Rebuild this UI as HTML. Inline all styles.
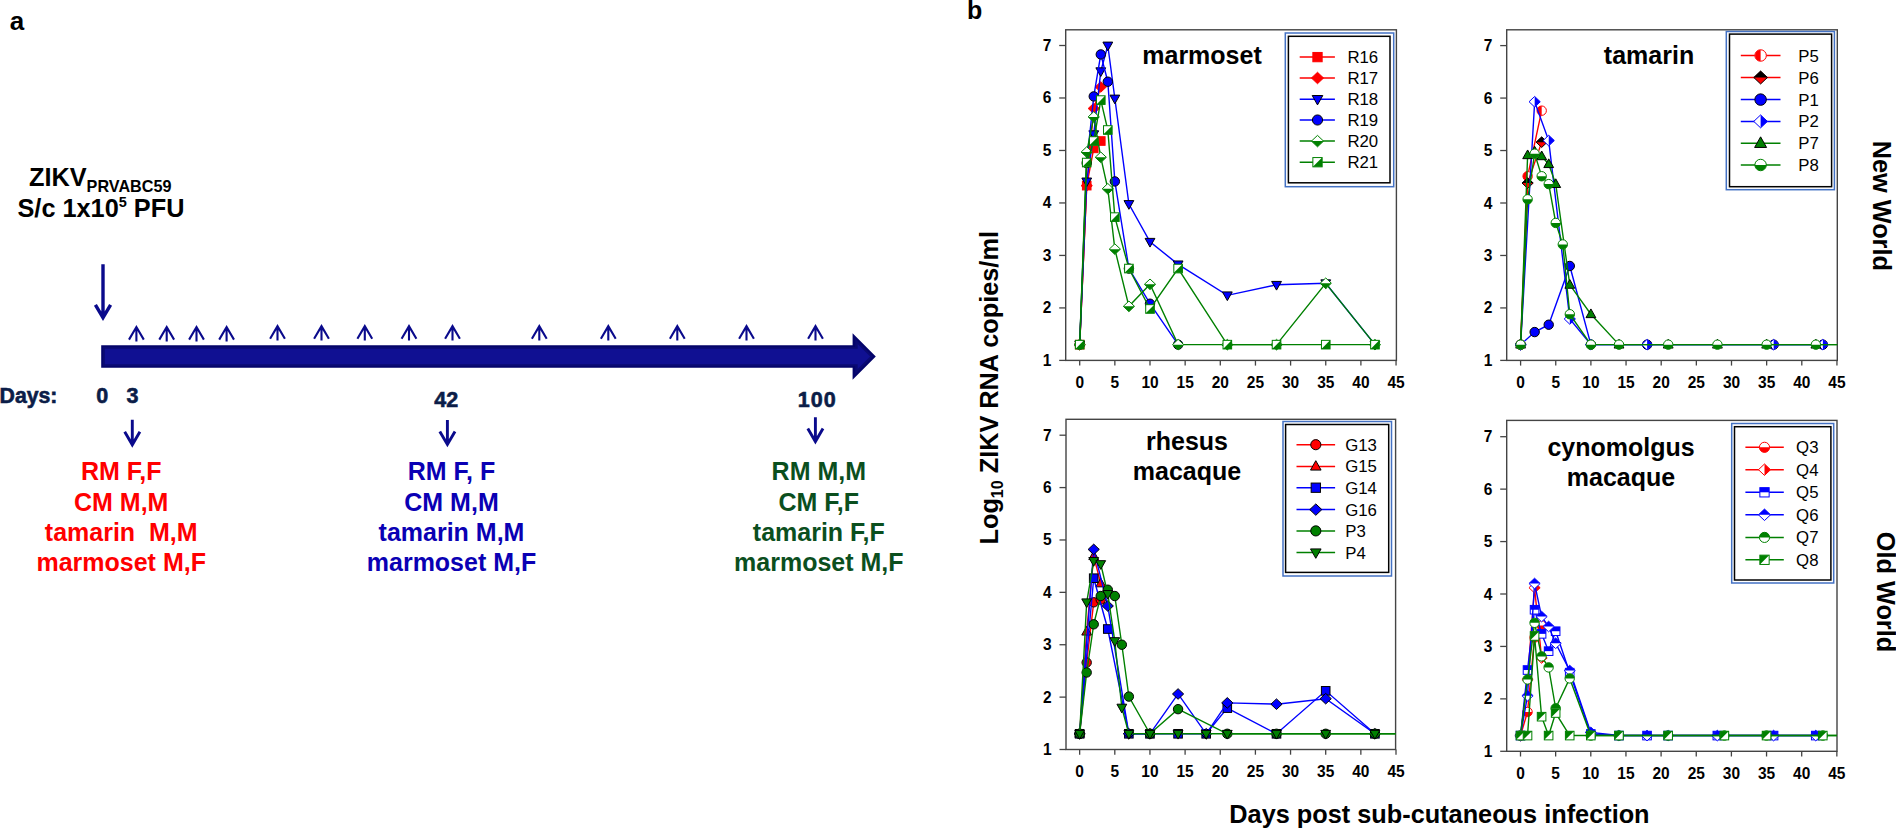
<!DOCTYPE html>
<html lang="en"><head><meta charset="utf-8"><title>ZIKV infection of New World and Old World primates</title>
<style>
html,body{margin:0;padding:0;background:#ffffff;}
body{width:1896px;height:829px;overflow:hidden;}
svg{display:block;}
text{font-family:"Liberation Sans",Arial,Helvetica,sans-serif;}
.tk{font-size:15.5px;font-weight:bold;fill:#000;}
.lg{font-size:16.8px;fill:#000;}
.ttl{font-size:25px;font-weight:bold;fill:#000;}
.big{font-size:25.3px;font-weight:bold;fill:#000;}
.grp{font-size:25px;font-weight:bold;stroke-width:0;}
.bk{font-weight:bold;fill:#000;}
.day{font-size:21.5px;font-weight:bold;fill:#0b1d48;stroke:#0b1d48;stroke-width:0.6px;}
</style></head><body>
<svg width="1896" height="829" viewBox="0 0 1896 829">
<rect x="0" y="0" width="1896" height="829" fill="#ffffff"/>
<text transform="translate(9.7 30) scale(1 1)" class="bk" style="font-size:26px">a</text>
<text transform="translate(967 19) scale(1 1)" class="bk" style="font-size:25px">b</text>
<text transform="translate(29 186.2) scale(1 1.04)" class="bk caps" style="font-size:25.3px">ZIKV<tspan dy="5.6" style="font-size:16.2px">PRVABC59</tspan></text>
<text transform="translate(17.5 216.5) scale(1 1.04)" class="bk caps" style="font-size:25.3px">S/c 1x10<tspan dy="-9.5" style="font-size:14.5px">5</tspan><tspan dy="9.5"> PFU</tspan></text>
<path d="M103 264.2 V317 M95.4 304.8 L103 317.7 L110.6 304.8" fill="none" stroke="#0a0a8c" stroke-width="3.4" stroke-linejoin="miter"/>
<polygon points="101.2,345.2 852.6,345.2 852.6,333.3 875.8,356.5 852.6,379.7 852.6,367.8 101.2,367.8" fill="#04046a"/>
<polygon points="103,347 855.12,347 855.12,338.61 873.01,356.5 855.12,374.39 855.12,366 103,366" fill="#0a0a72"/>
<polygon points="104.8,348.8 857.64,348.8 857.64,343.92 870.22,356.5 857.64,369.08 857.64,364.2 104.8,364.2" fill="#101092"/>
<path d="M136.4 327.3 V341.4 M129 339.6 L136.4 327 L143.8 339.6" fill="none" stroke="#0a0a8c" stroke-width="2.1"/>
<path d="M166.7 327.3 V341.4 M159.3 339.6 L166.7 327 L174.1 339.6" fill="none" stroke="#0a0a8c" stroke-width="2.1"/>
<path d="M196.5 327.3 V341.4 M189.1 339.6 L196.5 327 L203.9 339.6" fill="none" stroke="#0a0a8c" stroke-width="2.1"/>
<path d="M226.6 327.3 V341.4 M219.2 339.6 L226.6 327 L234 339.6" fill="none" stroke="#0a0a8c" stroke-width="2.1"/>
<path d="M277.5 326.4 V340.5 M270.1 338.7 L277.5 326.1 L284.9 338.7" fill="none" stroke="#0a0a8c" stroke-width="2.1"/>
<path d="M321.5 326.4 V340.5 M314.1 338.7 L321.5 326.1 L328.9 338.7" fill="none" stroke="#0a0a8c" stroke-width="2.1"/>
<path d="M364.8 326.4 V340.5 M357.4 338.7 L364.8 326.1 L372.2 338.7" fill="none" stroke="#0a0a8c" stroke-width="2.1"/>
<path d="M409 326.4 V340.5 M401.6 338.7 L409 326.1 L416.4 338.7" fill="none" stroke="#0a0a8c" stroke-width="2.1"/>
<path d="M452.5 326.4 V340.5 M445.1 338.7 L452.5 326.1 L459.9 338.7" fill="none" stroke="#0a0a8c" stroke-width="2.1"/>
<path d="M539.3 326.4 V340.5 M531.9 338.7 L539.3 326.1 L546.7 338.7" fill="none" stroke="#0a0a8c" stroke-width="2.1"/>
<path d="M608.3 326.4 V340.5 M600.9 338.7 L608.3 326.1 L615.7 338.7" fill="none" stroke="#0a0a8c" stroke-width="2.1"/>
<path d="M677.3 326.4 V340.5 M669.9 338.7 L677.3 326.1 L684.7 338.7" fill="none" stroke="#0a0a8c" stroke-width="2.1"/>
<path d="M746.5 326.4 V340.5 M739.1 338.7 L746.5 326.1 L753.9 338.7" fill="none" stroke="#0a0a8c" stroke-width="2.1"/>
<path d="M815.5 326.4 V340.5 M808.1 338.7 L815.5 326.1 L822.9 338.7" fill="none" stroke="#0a0a8c" stroke-width="2.1"/>
<text x="-0.4" y="402.6" class="day" textLength="57.8" lengthAdjust="spacingAndGlyphs">Days:</text>
<text x="102.2" y="402.6" class="day" text-anchor="middle">0</text>
<text x="132.4" y="402.6" class="day" text-anchor="middle">3</text>
<text x="446.3" y="406.8" class="day" text-anchor="middle">42</text>
<text x="817.3" y="406.8" class="day" text-anchor="middle" style="letter-spacing:1px">100</text>
<path d="M132.3 419.7 V444.4 M124.7 431.8 L132.3 444.8 L139.9 431.8" fill="none" stroke="#0a0a8c" stroke-width="2.9"/>
<path d="M447.4 420 V444 M439.8 431.4 L447.4 444.4 L455 431.4" fill="none" stroke="#0a0a8c" stroke-width="2.9"/>
<path d="M815.4 417.2 V441.2 M807.8 428.6 L815.4 441.6 L823 428.6" fill="none" stroke="#0a0a8c" stroke-width="2.9"/>
<text transform="translate(121.2 480.4) scale(1 1.04)" text-anchor="middle" class="grp" fill="#ff0000" stroke="#ff0000" xml:space="preserve">RM F,F</text>
<text transform="translate(121.2 510.65) scale(1 1.04)" text-anchor="middle" class="grp" fill="#ff0000" stroke="#ff0000" xml:space="preserve">CM M,M</text>
<text transform="translate(121.2 540.9) scale(1 1.04)" text-anchor="middle" class="grp" fill="#ff0000" stroke="#ff0000" xml:space="preserve">tamarin  M,M</text>
<text transform="translate(121.2 571.15) scale(1 1.04)" text-anchor="middle" class="grp" fill="#ff0000" stroke="#ff0000" xml:space="preserve">marmoset M,F</text>
<text transform="translate(451.5 480.4) scale(1 1.04)" text-anchor="middle" class="grp" fill="#0a00b4" stroke="#0a00b4" xml:space="preserve">RM F, F</text>
<text transform="translate(451.5 510.65) scale(1 1.04)" text-anchor="middle" class="grp" fill="#0a00b4" stroke="#0a00b4" xml:space="preserve">CM M,M</text>
<text transform="translate(451.5 540.9) scale(1 1.04)" text-anchor="middle" class="grp" fill="#0a00b4" stroke="#0a00b4" xml:space="preserve">tamarin M,M</text>
<text transform="translate(451.5 571.15) scale(1 1.04)" text-anchor="middle" class="grp" fill="#0a00b4" stroke="#0a00b4" xml:space="preserve">marmoset M,F</text>
<text transform="translate(818.8 480.4) scale(1 1.04)" text-anchor="middle" class="grp" fill="#0b4f1e" stroke="#0b4f1e" xml:space="preserve">RM M,M</text>
<text transform="translate(818.8 510.65) scale(1 1.04)" text-anchor="middle" class="grp" fill="#0b4f1e" stroke="#0b4f1e" xml:space="preserve">CM F,F</text>
<text transform="translate(818.8 540.9) scale(1 1.04)" text-anchor="middle" class="grp" fill="#0b4f1e" stroke="#0b4f1e" xml:space="preserve">tamarin F,F</text>
<text transform="translate(818.8 571.15) scale(1 1.04)" text-anchor="middle" class="grp" fill="#0b4f1e" stroke="#0b4f1e" xml:space="preserve">marmoset M,F</text>
<rect x="1065.7" y="29.8" width="330.7" height="330.6" fill="none" stroke="#444444" stroke-width="1.4"/>
<line x1="1059.2" y1="360.4" x2="1065.7" y2="360.4" stroke="#444444" stroke-width="1.3"/>
<text transform="translate(1051.4 365.9) scale(1 1.04)" text-anchor="end" class="tk">1</text>
<line x1="1059.2" y1="307.92" x2="1065.7" y2="307.92" stroke="#444444" stroke-width="1.3"/>
<text transform="translate(1051.4 313.42) scale(1 1.04)" text-anchor="end" class="tk">2</text>
<line x1="1059.2" y1="255.43" x2="1065.7" y2="255.43" stroke="#444444" stroke-width="1.3"/>
<text transform="translate(1051.4 260.93) scale(1 1.04)" text-anchor="end" class="tk">3</text>
<line x1="1059.2" y1="202.95" x2="1065.7" y2="202.95" stroke="#444444" stroke-width="1.3"/>
<text transform="translate(1051.4 208.45) scale(1 1.04)" text-anchor="end" class="tk">4</text>
<line x1="1059.2" y1="150.47" x2="1065.7" y2="150.47" stroke="#444444" stroke-width="1.3"/>
<text transform="translate(1051.4 155.97) scale(1 1.04)" text-anchor="end" class="tk">5</text>
<line x1="1059.2" y1="97.98" x2="1065.7" y2="97.98" stroke="#444444" stroke-width="1.3"/>
<text transform="translate(1051.4 103.48) scale(1 1.04)" text-anchor="end" class="tk">6</text>
<line x1="1059.2" y1="45.5" x2="1065.7" y2="45.5" stroke="#444444" stroke-width="1.3"/>
<text transform="translate(1051.4 51) scale(1 1.04)" text-anchor="end" class="tk">7</text>
<line x1="1079.7" y1="360.4" x2="1079.7" y2="365.6" stroke="#444444" stroke-width="1.3"/>
<text transform="translate(1079.7 387.6) scale(1 1.04)" text-anchor="middle" class="tk">0</text>
<line x1="1114.85" y1="360.4" x2="1114.85" y2="365.6" stroke="#444444" stroke-width="1.3"/>
<text transform="translate(1114.85 387.6) scale(1 1.04)" text-anchor="middle" class="tk">5</text>
<line x1="1150" y1="360.4" x2="1150" y2="365.6" stroke="#444444" stroke-width="1.3"/>
<text transform="translate(1150 387.6) scale(1 1.04)" text-anchor="middle" class="tk">10</text>
<line x1="1185.15" y1="360.4" x2="1185.15" y2="365.6" stroke="#444444" stroke-width="1.3"/>
<text transform="translate(1185.15 387.6) scale(1 1.04)" text-anchor="middle" class="tk">15</text>
<line x1="1220.3" y1="360.4" x2="1220.3" y2="365.6" stroke="#444444" stroke-width="1.3"/>
<text transform="translate(1220.3 387.6) scale(1 1.04)" text-anchor="middle" class="tk">20</text>
<line x1="1255.45" y1="360.4" x2="1255.45" y2="365.6" stroke="#444444" stroke-width="1.3"/>
<text transform="translate(1255.45 387.6) scale(1 1.04)" text-anchor="middle" class="tk">25</text>
<line x1="1290.6" y1="360.4" x2="1290.6" y2="365.6" stroke="#444444" stroke-width="1.3"/>
<text transform="translate(1290.6 387.6) scale(1 1.04)" text-anchor="middle" class="tk">30</text>
<line x1="1325.75" y1="360.4" x2="1325.75" y2="365.6" stroke="#444444" stroke-width="1.3"/>
<text transform="translate(1325.75 387.6) scale(1 1.04)" text-anchor="middle" class="tk">35</text>
<line x1="1360.9" y1="360.4" x2="1360.9" y2="365.6" stroke="#444444" stroke-width="1.3"/>
<text transform="translate(1360.9 387.6) scale(1 1.04)" text-anchor="middle" class="tk">40</text>
<line x1="1396.05" y1="360.4" x2="1396.05" y2="365.6" stroke="#444444" stroke-width="1.3"/>
<text transform="translate(1396.05 387.6) scale(1 1.04)" text-anchor="middle" class="tk">45</text>
<polyline points="1079.7,344.65 1086.73,185.63 1093.76,148.37 1100.79,141.02" fill="none" stroke="#ff0000" stroke-width="1.4"/>
<rect x="1075.4" y="340.35" width="8.6" height="8.6" fill="#ff0000" stroke="#ff0000" stroke-width="1.0"/>
<rect x="1082.43" y="181.33" width="8.6" height="8.6" fill="#ff0000" stroke="#ff0000" stroke-width="1.0"/>
<rect x="1089.46" y="144.07" width="8.6" height="8.6" fill="#ff0000" stroke="#ff0000" stroke-width="1.0"/>
<rect x="1096.49" y="136.72" width="8.6" height="8.6" fill="#ff0000" stroke="#ff0000" stroke-width="1.0"/>
<polyline points="1079.7,344.65 1086.73,185.63 1093.76,108.48 1100.79,86.96" fill="none" stroke="#ff0000" stroke-width="1.4"/>
<polygon points="1079.7,339.35 1085.3,344.65 1079.7,349.95 1074.1,344.65" fill="#ff0000" stroke="#ff0000" stroke-width="1.0"/>
<polygon points="1086.73,180.33 1092.33,185.63 1086.73,190.93 1081.13,185.63" fill="#ff0000" stroke="#ff0000" stroke-width="1.0"/>
<polygon points="1093.76,103.18 1099.36,108.48 1093.76,113.78 1088.16,108.48" fill="#ff0000" stroke="#ff0000" stroke-width="1.0"/>
<polygon points="1100.79,81.66 1106.39,86.96 1100.79,92.26 1095.19,86.96" fill="#ff0000" stroke="#ff0000" stroke-width="1.0"/>
<polyline points="1079.7,344.65 1086.73,181.43 1093.76,134.2 1100.79,71.22 1107.82,45.5 1114.85,98.51 1128.91,204 1150,241.79 1178.12,264.36 1227.33,295.32 1276.54,284.82 1325.75,283.25 1374.96,344.65" fill="none" stroke="#0000ff" stroke-width="1.4"/>
<polygon points="1079.7,349.95 1084.6,341.25 1074.8,341.25" fill="#0000ff" stroke="#000000" stroke-width="1.0"/>
<polygon points="1086.73,186.73 1091.63,178.03 1081.83,178.03" fill="#0000ff" stroke="#000000" stroke-width="1.0"/>
<polygon points="1093.76,139.5 1098.66,130.8 1088.86,130.8" fill="#0000ff" stroke="#000000" stroke-width="1.0"/>
<polygon points="1100.79,76.52 1105.69,67.82 1095.89,67.82" fill="#0000ff" stroke="#000000" stroke-width="1.0"/>
<polygon points="1107.82,50.8 1112.72,42.1 1102.92,42.1" fill="#0000ff" stroke="#000000" stroke-width="1.0"/>
<polygon points="1114.85,103.81 1119.75,95.11 1109.95,95.11" fill="#0000ff" stroke="#000000" stroke-width="1.0"/>
<polygon points="1128.91,209.3 1133.81,200.6 1124.01,200.6" fill="#0000ff" stroke="#000000" stroke-width="1.0"/>
<polygon points="1150,247.09 1154.9,238.39 1145.1,238.39" fill="#0000ff" stroke="#000000" stroke-width="1.0"/>
<polygon points="1178.12,269.66 1183.02,260.96 1173.22,260.96" fill="#0000ff" stroke="#000000" stroke-width="1.0"/>
<polygon points="1227.33,300.62 1232.23,291.92 1222.43,291.92" fill="#0000ff" stroke="#000000" stroke-width="1.0"/>
<polygon points="1276.54,290.12 1281.44,281.42 1271.64,281.42" fill="#0000ff" stroke="#000000" stroke-width="1.0"/>
<polygon points="1325.75,288.55 1330.65,279.85 1320.85,279.85" fill="#0000ff" stroke="#000000" stroke-width="1.0"/>
<polygon points="1374.96,349.95 1379.86,341.25 1370.06,341.25" fill="#0000ff" stroke="#000000" stroke-width="1.0"/>
<polyline points="1079.7,344.65 1086.73,163.06 1093.76,96.41 1100.79,54.42 1107.82,81.71 1114.85,181.43 1128.91,268.55 1150,303.72 1178.12,344.65" fill="none" stroke="#0000ff" stroke-width="1.4"/>
<circle cx="1079.7" cy="344.65" r="4.7" fill="#0000ff" stroke="#000000" stroke-width="1.0"/>
<circle cx="1086.73" cy="163.06" r="4.7" fill="#0000ff" stroke="#000000" stroke-width="1.0"/>
<circle cx="1093.76" cy="96.41" r="4.7" fill="#0000ff" stroke="#000000" stroke-width="1.0"/>
<circle cx="1100.79" cy="54.42" r="4.7" fill="#0000ff" stroke="#000000" stroke-width="1.0"/>
<circle cx="1107.82" cy="81.71" r="4.7" fill="#0000ff" stroke="#000000" stroke-width="1.0"/>
<circle cx="1114.85" cy="181.43" r="4.7" fill="#0000ff" stroke="#000000" stroke-width="1.0"/>
<circle cx="1128.91" cy="268.55" r="4.7" fill="#0000ff" stroke="#000000" stroke-width="1.0"/>
<circle cx="1150" cy="303.72" r="4.7" fill="#0000ff" stroke="#000000" stroke-width="1.0"/>
<circle cx="1178.12" cy="344.65" r="4.7" fill="#0000ff" stroke="#000000" stroke-width="1.0"/>
<polyline points="1079.7,344.65 1086.73,152.04 1093.76,116.88 1100.79,157.29 1107.82,188.78 1114.85,249.14 1128.91,306.34 1150,284.3 1178.12,344.65 1227.33,344.65 1276.54,344.65 1325.75,283.25 1374.96,344.65" fill="none" stroke="#008000" stroke-width="1.4"/>
<polygon points="1079.7,339.35 1085.3,344.65 1079.7,349.95 1074.1,344.65" fill="#ffffff"/><polygon points="1074.1,344.65 1079.7,349.95 1085.3,344.65" fill="#008000"/><polygon points="1079.7,339.35 1085.3,344.65 1079.7,349.95 1074.1,344.65" fill="none" stroke="#008000" stroke-width="1.0"/>
<polygon points="1086.73,146.74 1092.33,152.04 1086.73,157.34 1081.13,152.04" fill="#ffffff"/><polygon points="1081.13,152.04 1086.73,157.34 1092.33,152.04" fill="#008000"/><polygon points="1086.73,146.74 1092.33,152.04 1086.73,157.34 1081.13,152.04" fill="none" stroke="#008000" stroke-width="1.0"/>
<polygon points="1093.76,111.58 1099.36,116.88 1093.76,122.18 1088.16,116.88" fill="#ffffff"/><polygon points="1088.16,116.88 1093.76,122.18 1099.36,116.88" fill="#008000"/><polygon points="1093.76,111.58 1099.36,116.88 1093.76,122.18 1088.16,116.88" fill="none" stroke="#008000" stroke-width="1.0"/>
<polygon points="1100.79,151.99 1106.39,157.29 1100.79,162.59 1095.19,157.29" fill="#ffffff"/><polygon points="1095.19,157.29 1100.79,162.59 1106.39,157.29" fill="#008000"/><polygon points="1100.79,151.99 1106.39,157.29 1100.79,162.59 1095.19,157.29" fill="none" stroke="#008000" stroke-width="1.0"/>
<polygon points="1107.82,183.48 1113.42,188.78 1107.82,194.08 1102.22,188.78" fill="#ffffff"/><polygon points="1102.22,188.78 1107.82,194.08 1113.42,188.78" fill="#008000"/><polygon points="1107.82,183.48 1113.42,188.78 1107.82,194.08 1102.22,188.78" fill="none" stroke="#008000" stroke-width="1.0"/>
<polygon points="1114.85,243.84 1120.45,249.14 1114.85,254.44 1109.25,249.14" fill="#ffffff"/><polygon points="1109.25,249.14 1114.85,254.44 1120.45,249.14" fill="#008000"/><polygon points="1114.85,243.84 1120.45,249.14 1114.85,254.44 1109.25,249.14" fill="none" stroke="#008000" stroke-width="1.0"/>
<polygon points="1128.91,301.04 1134.51,306.34 1128.91,311.64 1123.31,306.34" fill="#ffffff"/><polygon points="1123.31,306.34 1128.91,311.64 1134.51,306.34" fill="#008000"/><polygon points="1128.91,301.04 1134.51,306.34 1128.91,311.64 1123.31,306.34" fill="none" stroke="#008000" stroke-width="1.0"/>
<polygon points="1150,279 1155.6,284.3 1150,289.6 1144.4,284.3" fill="#ffffff"/><polygon points="1144.4,284.3 1150,289.6 1155.6,284.3" fill="#008000"/><polygon points="1150,279 1155.6,284.3 1150,289.6 1144.4,284.3" fill="none" stroke="#008000" stroke-width="1.0"/>
<polygon points="1178.12,339.35 1183.72,344.65 1178.12,349.95 1172.52,344.65" fill="#ffffff"/><polygon points="1172.52,344.65 1178.12,349.95 1183.72,344.65" fill="#008000"/><polygon points="1178.12,339.35 1183.72,344.65 1178.12,349.95 1172.52,344.65" fill="none" stroke="#008000" stroke-width="1.0"/>
<polygon points="1227.33,339.35 1232.93,344.65 1227.33,349.95 1221.73,344.65" fill="#ffffff"/><polygon points="1221.73,344.65 1227.33,349.95 1232.93,344.65" fill="#008000"/><polygon points="1227.33,339.35 1232.93,344.65 1227.33,349.95 1221.73,344.65" fill="none" stroke="#008000" stroke-width="1.0"/>
<polygon points="1276.54,339.35 1282.14,344.65 1276.54,349.95 1270.94,344.65" fill="#ffffff"/><polygon points="1270.94,344.65 1276.54,349.95 1282.14,344.65" fill="#008000"/><polygon points="1276.54,339.35 1282.14,344.65 1276.54,349.95 1270.94,344.65" fill="none" stroke="#008000" stroke-width="1.0"/>
<polygon points="1325.75,277.95 1331.35,283.25 1325.75,288.55 1320.15,283.25" fill="#ffffff"/><polygon points="1320.15,283.25 1325.75,288.55 1331.35,283.25" fill="#008000"/><polygon points="1325.75,277.95 1331.35,283.25 1325.75,288.55 1320.15,283.25" fill="none" stroke="#008000" stroke-width="1.0"/>
<polygon points="1374.96,339.35 1380.56,344.65 1374.96,349.95 1369.36,344.65" fill="#ffffff"/><polygon points="1369.36,344.65 1374.96,349.95 1380.56,344.65" fill="#008000"/><polygon points="1374.96,339.35 1380.56,344.65 1374.96,349.95 1369.36,344.65" fill="none" stroke="#008000" stroke-width="1.0"/>
<polyline points="1079.7,344.65 1086.73,162.54 1093.76,141.02 1100.79,100.08 1107.82,130 1114.85,217.12 1128.91,268.55 1150,308.97 1178.12,268.55 1227.33,344.65 1276.54,344.65 1325.75,344.65 1374.96,344.65" fill="none" stroke="#008000" stroke-width="1.4"/>
<rect x="1075.4" y="340.35" width="8.6" height="8.6" fill="#ffffff"/><path d="M1075.4 348.95 L1084 340.35 L1084 348.95 Z" fill="#008000"/><rect x="1075.4" y="340.35" width="8.6" height="8.6" fill="none" stroke="#008000" stroke-width="1.0"/>
<rect x="1082.43" y="158.24" width="8.6" height="8.6" fill="#ffffff"/><path d="M1082.43 166.84 L1091.03 158.24 L1091.03 166.84 Z" fill="#008000"/><rect x="1082.43" y="158.24" width="8.6" height="8.6" fill="none" stroke="#008000" stroke-width="1.0"/>
<rect x="1089.46" y="136.72" width="8.6" height="8.6" fill="#ffffff"/><path d="M1089.46 145.32 L1098.06 136.72 L1098.06 145.32 Z" fill="#008000"/><rect x="1089.46" y="136.72" width="8.6" height="8.6" fill="none" stroke="#008000" stroke-width="1.0"/>
<rect x="1096.49" y="95.78" width="8.6" height="8.6" fill="#ffffff"/><path d="M1096.49 104.38 L1105.09 95.78 L1105.09 104.38 Z" fill="#008000"/><rect x="1096.49" y="95.78" width="8.6" height="8.6" fill="none" stroke="#008000" stroke-width="1.0"/>
<rect x="1103.52" y="125.7" width="8.6" height="8.6" fill="#ffffff"/><path d="M1103.52 134.3 L1112.12 125.7 L1112.12 134.3 Z" fill="#008000"/><rect x="1103.52" y="125.7" width="8.6" height="8.6" fill="none" stroke="#008000" stroke-width="1.0"/>
<rect x="1110.55" y="212.82" width="8.6" height="8.6" fill="#ffffff"/><path d="M1110.55 221.42 L1119.15 212.82 L1119.15 221.42 Z" fill="#008000"/><rect x="1110.55" y="212.82" width="8.6" height="8.6" fill="none" stroke="#008000" stroke-width="1.0"/>
<rect x="1124.61" y="264.25" width="8.6" height="8.6" fill="#ffffff"/><path d="M1124.61 272.85 L1133.21 264.25 L1133.21 272.85 Z" fill="#008000"/><rect x="1124.61" y="264.25" width="8.6" height="8.6" fill="none" stroke="#008000" stroke-width="1.0"/>
<rect x="1145.7" y="304.67" width="8.6" height="8.6" fill="#ffffff"/><path d="M1145.7 313.27 L1154.3 304.67 L1154.3 313.27 Z" fill="#008000"/><rect x="1145.7" y="304.67" width="8.6" height="8.6" fill="none" stroke="#008000" stroke-width="1.0"/>
<rect x="1173.82" y="264.25" width="8.6" height="8.6" fill="#ffffff"/><path d="M1173.82 272.85 L1182.42 264.25 L1182.42 272.85 Z" fill="#008000"/><rect x="1173.82" y="264.25" width="8.6" height="8.6" fill="none" stroke="#008000" stroke-width="1.0"/>
<rect x="1223.03" y="340.35" width="8.6" height="8.6" fill="#ffffff"/><path d="M1223.03 348.95 L1231.63 340.35 L1231.63 348.95 Z" fill="#008000"/><rect x="1223.03" y="340.35" width="8.6" height="8.6" fill="none" stroke="#008000" stroke-width="1.0"/>
<rect x="1272.24" y="340.35" width="8.6" height="8.6" fill="#ffffff"/><path d="M1272.24 348.95 L1280.84 340.35 L1280.84 348.95 Z" fill="#008000"/><rect x="1272.24" y="340.35" width="8.6" height="8.6" fill="none" stroke="#008000" stroke-width="1.0"/>
<rect x="1321.45" y="340.35" width="8.6" height="8.6" fill="#ffffff"/><path d="M1321.45 348.95 L1330.05 340.35 L1330.05 348.95 Z" fill="#008000"/><rect x="1321.45" y="340.35" width="8.6" height="8.6" fill="none" stroke="#008000" stroke-width="1.0"/>
<rect x="1370.66" y="340.35" width="8.6" height="8.6" fill="#ffffff"/><path d="M1370.66 348.95 L1379.26 340.35 L1379.26 348.95 Z" fill="#008000"/><rect x="1370.66" y="340.35" width="8.6" height="8.6" fill="none" stroke="#008000" stroke-width="1.0"/>
<text transform="translate(1202 64.2) scale(1 1)" text-anchor="middle" class="ttl">marmoset</text>
<rect x="1285.3" y="33" width="108.4" height="153.7" fill="#ffffff" stroke="#4472c4" stroke-width="1.5"/>
<rect x="1288.4" y="36.3" width="101.6" height="146.5" fill="#ffffff" stroke="#000000" stroke-width="1.5"/>
<line x1="1299.7" y1="57.1" x2="1334.9" y2="57.1" stroke="#ff0000" stroke-width="1.5"/>
<rect x="1312.86" y="52.46" width="9.29" height="9.29" fill="#ff0000" stroke="#ff0000" stroke-width="1.0"/>
<text transform="translate(1347.4 63.1) scale(1 1)" class="lg">R16</text>
<line x1="1299.7" y1="78" x2="1334.9" y2="78" stroke="#ff0000" stroke-width="1.5"/>
<polygon points="1317.5,72.28 1323.55,78 1317.5,83.72 1311.45,78" fill="#ff0000" stroke="#ff0000" stroke-width="1.0"/>
<text transform="translate(1347.4 84) scale(1 1)" class="lg">R17</text>
<line x1="1299.7" y1="99.2" x2="1334.9" y2="99.2" stroke="#0000ff" stroke-width="1.5"/>
<polygon points="1317.5,104.92 1322.79,95.53 1312.21,95.53" fill="#0000ff" stroke="#000000" stroke-width="1.0"/>
<text transform="translate(1347.4 105.2) scale(1 1)" class="lg">R18</text>
<line x1="1299.7" y1="120" x2="1334.9" y2="120" stroke="#0000ff" stroke-width="1.5"/>
<circle cx="1317.5" cy="120" r="5.0760000000000005" fill="#0000ff" stroke="#000000" stroke-width="1.0"/>
<text transform="translate(1347.4 126) scale(1 1)" class="lg">R19</text>
<line x1="1299.7" y1="141.1" x2="1334.9" y2="141.1" stroke="#008000" stroke-width="1.5"/>
<polygon points="1317.5,135.38 1323.55,141.1 1317.5,146.82 1311.45,141.1" fill="#ffffff"/><polygon points="1311.45,141.1 1317.5,146.82 1323.55,141.1" fill="#008000"/><polygon points="1317.5,135.38 1323.55,141.1 1317.5,146.82 1311.45,141.1" fill="none" stroke="#008000" stroke-width="1.0"/>
<text transform="translate(1347.4 147.1) scale(1 1)" class="lg">R20</text>
<line x1="1299.7" y1="162.2" x2="1334.9" y2="162.2" stroke="#008000" stroke-width="1.5"/>
<rect x="1312.86" y="157.56" width="9.29" height="9.29" fill="#ffffff"/><path d="M1312.86 166.84 L1322.14 157.56 L1322.14 166.84 Z" fill="#008000"/><rect x="1312.86" y="157.56" width="9.29" height="9.29" fill="none" stroke="#008000" stroke-width="1.0"/>
<text transform="translate(1347.4 168.2) scale(1 1)" class="lg">R21</text>
<rect x="1506.7" y="29.8" width="330.6" height="330.6" fill="none" stroke="#444444" stroke-width="1.4"/>
<line x1="1500.2" y1="360.4" x2="1506.7" y2="360.4" stroke="#444444" stroke-width="1.3"/>
<text transform="translate(1492.4 365.9) scale(1 1.04)" text-anchor="end" class="tk">1</text>
<line x1="1500.2" y1="307.93" x2="1506.7" y2="307.93" stroke="#444444" stroke-width="1.3"/>
<text transform="translate(1492.4 313.43) scale(1 1.04)" text-anchor="end" class="tk">2</text>
<line x1="1500.2" y1="255.47" x2="1506.7" y2="255.47" stroke="#444444" stroke-width="1.3"/>
<text transform="translate(1492.4 260.97) scale(1 1.04)" text-anchor="end" class="tk">3</text>
<line x1="1500.2" y1="203" x2="1506.7" y2="203" stroke="#444444" stroke-width="1.3"/>
<text transform="translate(1492.4 208.5) scale(1 1.04)" text-anchor="end" class="tk">4</text>
<line x1="1500.2" y1="150.53" x2="1506.7" y2="150.53" stroke="#444444" stroke-width="1.3"/>
<text transform="translate(1492.4 156.03) scale(1 1.04)" text-anchor="end" class="tk">5</text>
<line x1="1500.2" y1="98.07" x2="1506.7" y2="98.07" stroke="#444444" stroke-width="1.3"/>
<text transform="translate(1492.4 103.57) scale(1 1.04)" text-anchor="end" class="tk">6</text>
<line x1="1500.2" y1="45.6" x2="1506.7" y2="45.6" stroke="#444444" stroke-width="1.3"/>
<text transform="translate(1492.4 51.1) scale(1 1.04)" text-anchor="end" class="tk">7</text>
<line x1="1520.6" y1="360.4" x2="1520.6" y2="365.6" stroke="#444444" stroke-width="1.3"/>
<text transform="translate(1520.6 387.6) scale(1 1.04)" text-anchor="middle" class="tk">0</text>
<line x1="1555.75" y1="360.4" x2="1555.75" y2="365.6" stroke="#444444" stroke-width="1.3"/>
<text transform="translate(1555.75 387.6) scale(1 1.04)" text-anchor="middle" class="tk">5</text>
<line x1="1590.9" y1="360.4" x2="1590.9" y2="365.6" stroke="#444444" stroke-width="1.3"/>
<text transform="translate(1590.9 387.6) scale(1 1.04)" text-anchor="middle" class="tk">10</text>
<line x1="1626.05" y1="360.4" x2="1626.05" y2="365.6" stroke="#444444" stroke-width="1.3"/>
<text transform="translate(1626.05 387.6) scale(1 1.04)" text-anchor="middle" class="tk">15</text>
<line x1="1661.2" y1="360.4" x2="1661.2" y2="365.6" stroke="#444444" stroke-width="1.3"/>
<text transform="translate(1661.2 387.6) scale(1 1.04)" text-anchor="middle" class="tk">20</text>
<line x1="1696.35" y1="360.4" x2="1696.35" y2="365.6" stroke="#444444" stroke-width="1.3"/>
<text transform="translate(1696.35 387.6) scale(1 1.04)" text-anchor="middle" class="tk">25</text>
<line x1="1731.5" y1="360.4" x2="1731.5" y2="365.6" stroke="#444444" stroke-width="1.3"/>
<text transform="translate(1731.5 387.6) scale(1 1.04)" text-anchor="middle" class="tk">30</text>
<line x1="1766.65" y1="360.4" x2="1766.65" y2="365.6" stroke="#444444" stroke-width="1.3"/>
<text transform="translate(1766.65 387.6) scale(1 1.04)" text-anchor="middle" class="tk">35</text>
<line x1="1801.8" y1="360.4" x2="1801.8" y2="365.6" stroke="#444444" stroke-width="1.3"/>
<text transform="translate(1801.8 387.6) scale(1 1.04)" text-anchor="middle" class="tk">40</text>
<line x1="1836.95" y1="360.4" x2="1836.95" y2="365.6" stroke="#444444" stroke-width="1.3"/>
<text transform="translate(1836.95 387.6) scale(1 1.04)" text-anchor="middle" class="tk">45</text>
<polyline points="1520.6,344.66 1527.63,176.24 1541.69,110.66" fill="none" stroke="#ff0000" stroke-width="1.4"/>
<circle cx="1520.6" cy="344.66" r="4.7" fill="#ffffff" stroke="none"/><path d="M1520.6 339.96 A4.7 4.7 0 0 0 1520.6 349.36 Z" fill="#ff0000"/><circle cx="1520.6" cy="344.66" r="4.7" fill="none" stroke="#ff0000" stroke-width="1.0"/>
<circle cx="1527.63" cy="176.24" r="4.7" fill="#ffffff" stroke="none"/><path d="M1527.63 171.54 A4.7 4.7 0 0 0 1527.63 180.94 Z" fill="#ff0000"/><circle cx="1527.63" cy="176.24" r="4.7" fill="none" stroke="#ff0000" stroke-width="1.0"/>
<circle cx="1541.69" cy="110.66" r="4.7" fill="#ffffff" stroke="none"/><path d="M1541.69 105.96 A4.7 4.7 0 0 0 1541.69 115.36 Z" fill="#ff0000"/><circle cx="1541.69" cy="110.66" r="4.7" fill="none" stroke="#ff0000" stroke-width="1.0"/>
<polyline points="1520.6,344.66 1527.63,183.06 1541.69,142.14" fill="none" stroke="#ff0000" stroke-width="1.4"/>
<polygon points="1520.6,339.36 1526.2,344.66 1520.6,349.96 1515,344.66" fill="#ff0000"/><polygon points="1515,344.66 1520.6,339.36 1526.2,344.66" fill="#000000"/><polygon points="1520.6,339.36 1526.2,344.66 1520.6,349.96 1515,344.66" fill="none" stroke="#000000" stroke-width="1.0"/>
<polygon points="1527.63,177.76 1533.23,183.06 1527.63,188.36 1522.03,183.06" fill="#ff0000"/><polygon points="1522.03,183.06 1527.63,177.76 1533.23,183.06" fill="#000000"/><polygon points="1527.63,177.76 1533.23,183.06 1527.63,188.36 1522.03,183.06" fill="none" stroke="#000000" stroke-width="1.0"/>
<polygon points="1541.69,136.84 1547.29,142.14 1541.69,147.44 1536.09,142.14" fill="#ff0000"/><polygon points="1536.09,142.14 1541.69,136.84 1547.29,142.14" fill="#000000"/><polygon points="1541.69,136.84 1547.29,142.14 1541.69,147.44 1536.09,142.14" fill="none" stroke="#000000" stroke-width="1.0"/>
<polyline points="1520.6,344.66 1534.66,332.07 1548.72,324.72 1569.81,265.96 1590.9,344.66 1647.14,344.66 1773.68,344.66 1822.89,344.66" fill="none" stroke="#0000ff" stroke-width="1.4"/>
<circle cx="1520.6" cy="344.66" r="4.7" fill="#0000ff" stroke="#000000" stroke-width="1.0"/>
<circle cx="1534.66" cy="332.07" r="4.7" fill="#0000ff" stroke="#000000" stroke-width="1.0"/>
<circle cx="1548.72" cy="324.72" r="4.7" fill="#0000ff" stroke="#000000" stroke-width="1.0"/>
<circle cx="1569.81" cy="265.96" r="4.7" fill="#0000ff" stroke="#000000" stroke-width="1.0"/>
<circle cx="1590.9" cy="344.66" r="4.7" fill="#0000ff" stroke="#000000" stroke-width="1.0"/>
<circle cx="1647.14" cy="344.66" r="4.7" fill="#0000ff" stroke="#000000" stroke-width="1.0"/>
<circle cx="1773.68" cy="344.66" r="4.7" fill="#0000ff" stroke="#000000" stroke-width="1.0"/>
<circle cx="1822.89" cy="344.66" r="4.7" fill="#0000ff" stroke="#000000" stroke-width="1.0"/>
<polyline points="1520.6,344.66 1534.66,101.74 1548.72,140.56 1569.81,318.95 1590.9,344.66 1647.14,344.66 1773.68,344.66 1822.89,344.66" fill="none" stroke="#0000ff" stroke-width="1.4"/>
<polygon points="1520.6,339.36 1526.2,344.66 1520.6,349.96 1515,344.66" fill="#ffffff"/><polygon points="1520.6,339.36 1526.2,344.66 1520.6,349.96" fill="#0000ff"/><polygon points="1520.6,339.36 1526.2,344.66 1520.6,349.96 1515,344.66" fill="none" stroke="#0000ff" stroke-width="1.0"/>
<polygon points="1534.66,96.44 1540.26,101.74 1534.66,107.04 1529.06,101.74" fill="#ffffff"/><polygon points="1534.66,96.44 1540.26,101.74 1534.66,107.04" fill="#0000ff"/><polygon points="1534.66,96.44 1540.26,101.74 1534.66,107.04 1529.06,101.74" fill="none" stroke="#0000ff" stroke-width="1.0"/>
<polygon points="1548.72,135.26 1554.32,140.56 1548.72,145.86 1543.12,140.56" fill="#ffffff"/><polygon points="1548.72,135.26 1554.32,140.56 1548.72,145.86" fill="#0000ff"/><polygon points="1548.72,135.26 1554.32,140.56 1548.72,145.86 1543.12,140.56" fill="none" stroke="#0000ff" stroke-width="1.0"/>
<polygon points="1569.81,313.65 1575.41,318.95 1569.81,324.25 1564.21,318.95" fill="#ffffff"/><polygon points="1569.81,313.65 1575.41,318.95 1569.81,324.25" fill="#0000ff"/><polygon points="1569.81,313.65 1575.41,318.95 1569.81,324.25 1564.21,318.95" fill="none" stroke="#0000ff" stroke-width="1.0"/>
<polygon points="1590.9,339.36 1596.5,344.66 1590.9,349.96 1585.3,344.66" fill="#ffffff"/><polygon points="1590.9,339.36 1596.5,344.66 1590.9,349.96" fill="#0000ff"/><polygon points="1590.9,339.36 1596.5,344.66 1590.9,349.96 1585.3,344.66" fill="none" stroke="#0000ff" stroke-width="1.0"/>
<polygon points="1647.14,339.36 1652.74,344.66 1647.14,349.96 1641.54,344.66" fill="#ffffff"/><polygon points="1647.14,339.36 1652.74,344.66 1647.14,349.96" fill="#0000ff"/><polygon points="1647.14,339.36 1652.74,344.66 1647.14,349.96 1641.54,344.66" fill="none" stroke="#0000ff" stroke-width="1.0"/>
<polygon points="1773.68,339.36 1779.28,344.66 1773.68,349.96 1768.08,344.66" fill="#ffffff"/><polygon points="1773.68,339.36 1779.28,344.66 1773.68,349.96" fill="#0000ff"/><polygon points="1773.68,339.36 1779.28,344.66 1773.68,349.96 1768.08,344.66" fill="none" stroke="#0000ff" stroke-width="1.0"/>
<polygon points="1822.89,339.36 1828.49,344.66 1822.89,349.96 1817.29,344.66" fill="#ffffff"/><polygon points="1822.89,339.36 1828.49,344.66 1822.89,349.96" fill="#0000ff"/><polygon points="1822.89,339.36 1828.49,344.66 1822.89,349.96 1817.29,344.66" fill="none" stroke="#0000ff" stroke-width="1.0"/>
<polyline points="1520.6,344.66 1527.63,155.26 1534.66,151.58 1541.69,156.3 1548.72,164.17 1555.75,184.11 1569.81,284.85 1590.9,314.23 1619.02,344.66 1668.23,344.66 1717.44,344.66 1766.65,344.66 1815.86,344.66 1837.3,344.66" fill="none" stroke="#008000" stroke-width="1.4"/>
<polygon points="1520.6,339.36 1525.5,348.06 1515.7,348.06" fill="#008000" stroke="#000000" stroke-width="1.0"/>
<polygon points="1527.63,149.96 1532.53,158.66 1522.73,158.66" fill="#008000" stroke="#000000" stroke-width="1.0"/>
<polygon points="1534.66,146.28 1539.56,154.98 1529.76,154.98" fill="#008000" stroke="#000000" stroke-width="1.0"/>
<polygon points="1541.69,151 1546.59,159.7 1536.79,159.7" fill="#008000" stroke="#000000" stroke-width="1.0"/>
<polygon points="1548.72,158.87 1553.62,167.57 1543.82,167.57" fill="#008000" stroke="#000000" stroke-width="1.0"/>
<polygon points="1555.75,178.81 1560.65,187.51 1550.85,187.51" fill="#008000" stroke="#000000" stroke-width="1.0"/>
<polygon points="1569.81,279.55 1574.71,288.25 1564.91,288.25" fill="#008000" stroke="#000000" stroke-width="1.0"/>
<polygon points="1590.9,308.93 1595.8,317.63 1586,317.63" fill="#008000" stroke="#000000" stroke-width="1.0"/>
<polygon points="1619.02,339.36 1623.92,348.06 1614.12,348.06" fill="#008000" stroke="#000000" stroke-width="1.0"/>
<polygon points="1668.23,339.36 1673.13,348.06 1663.33,348.06" fill="#008000" stroke="#000000" stroke-width="1.0"/>
<polygon points="1717.44,339.36 1722.34,348.06 1712.54,348.06" fill="#008000" stroke="#000000" stroke-width="1.0"/>
<polygon points="1766.65,339.36 1771.55,348.06 1761.75,348.06" fill="#008000" stroke="#000000" stroke-width="1.0"/>
<polygon points="1815.86,339.36 1820.76,348.06 1810.96,348.06" fill="#008000" stroke="#000000" stroke-width="1.0"/>
<polyline points="1520.6,344.66 1527.63,199.33 1534.66,153.68 1541.69,176.24 1548.72,184.11 1555.75,222.94 1562.78,244.45 1569.81,314.23 1590.9,344.66 1619.02,344.66 1668.23,344.66 1717.44,344.66 1766.65,344.66 1815.86,344.66 1837.3,344.66" fill="none" stroke="#008000" stroke-width="1.4"/>
<circle cx="1520.6" cy="344.66" r="4.7" fill="#ffffff" stroke="none"/><path d="M1515.9 344.66 A4.7 4.7 0 0 0 1525.3 344.66 Z" fill="#008000"/><circle cx="1520.6" cy="344.66" r="4.7" fill="none" stroke="#008000" stroke-width="1.0"/>
<circle cx="1527.63" cy="199.33" r="4.7" fill="#ffffff" stroke="none"/><path d="M1522.93 199.33 A4.7 4.7 0 0 0 1532.33 199.33 Z" fill="#008000"/><circle cx="1527.63" cy="199.33" r="4.7" fill="none" stroke="#008000" stroke-width="1.0"/>
<circle cx="1534.66" cy="153.68" r="4.7" fill="#ffffff" stroke="none"/><path d="M1529.96 153.68 A4.7 4.7 0 0 0 1539.36 153.68 Z" fill="#008000"/><circle cx="1534.66" cy="153.68" r="4.7" fill="none" stroke="#008000" stroke-width="1.0"/>
<circle cx="1541.69" cy="176.24" r="4.7" fill="#ffffff" stroke="none"/><path d="M1536.99 176.24 A4.7 4.7 0 0 0 1546.39 176.24 Z" fill="#008000"/><circle cx="1541.69" cy="176.24" r="4.7" fill="none" stroke="#008000" stroke-width="1.0"/>
<circle cx="1548.72" cy="184.11" r="4.7" fill="#ffffff" stroke="none"/><path d="M1544.02 184.11 A4.7 4.7 0 0 0 1553.42 184.11 Z" fill="#008000"/><circle cx="1548.72" cy="184.11" r="4.7" fill="none" stroke="#008000" stroke-width="1.0"/>
<circle cx="1555.75" cy="222.94" r="4.7" fill="#ffffff" stroke="none"/><path d="M1551.05 222.94 A4.7 4.7 0 0 0 1560.45 222.94 Z" fill="#008000"/><circle cx="1555.75" cy="222.94" r="4.7" fill="none" stroke="#008000" stroke-width="1.0"/>
<circle cx="1562.78" cy="244.45" r="4.7" fill="#ffffff" stroke="none"/><path d="M1558.08 244.45 A4.7 4.7 0 0 0 1567.48 244.45 Z" fill="#008000"/><circle cx="1562.78" cy="244.45" r="4.7" fill="none" stroke="#008000" stroke-width="1.0"/>
<circle cx="1569.81" cy="314.23" r="4.7" fill="#ffffff" stroke="none"/><path d="M1565.11 314.23 A4.7 4.7 0 0 0 1574.51 314.23 Z" fill="#008000"/><circle cx="1569.81" cy="314.23" r="4.7" fill="none" stroke="#008000" stroke-width="1.0"/>
<circle cx="1590.9" cy="344.66" r="4.7" fill="#ffffff" stroke="none"/><path d="M1586.2 344.66 A4.7 4.7 0 0 0 1595.6 344.66 Z" fill="#008000"/><circle cx="1590.9" cy="344.66" r="4.7" fill="none" stroke="#008000" stroke-width="1.0"/>
<circle cx="1619.02" cy="344.66" r="4.7" fill="#ffffff" stroke="none"/><path d="M1614.32 344.66 A4.7 4.7 0 0 0 1623.72 344.66 Z" fill="#008000"/><circle cx="1619.02" cy="344.66" r="4.7" fill="none" stroke="#008000" stroke-width="1.0"/>
<circle cx="1668.23" cy="344.66" r="4.7" fill="#ffffff" stroke="none"/><path d="M1663.53 344.66 A4.7 4.7 0 0 0 1672.93 344.66 Z" fill="#008000"/><circle cx="1668.23" cy="344.66" r="4.7" fill="none" stroke="#008000" stroke-width="1.0"/>
<circle cx="1717.44" cy="344.66" r="4.7" fill="#ffffff" stroke="none"/><path d="M1712.74 344.66 A4.7 4.7 0 0 0 1722.14 344.66 Z" fill="#008000"/><circle cx="1717.44" cy="344.66" r="4.7" fill="none" stroke="#008000" stroke-width="1.0"/>
<circle cx="1766.65" cy="344.66" r="4.7" fill="#ffffff" stroke="none"/><path d="M1761.95 344.66 A4.7 4.7 0 0 0 1771.35 344.66 Z" fill="#008000"/><circle cx="1766.65" cy="344.66" r="4.7" fill="none" stroke="#008000" stroke-width="1.0"/>
<circle cx="1815.86" cy="344.66" r="4.7" fill="#ffffff" stroke="none"/><path d="M1811.16 344.66 A4.7 4.7 0 0 0 1820.56 344.66 Z" fill="#008000"/><circle cx="1815.86" cy="344.66" r="4.7" fill="none" stroke="#008000" stroke-width="1.0"/>
<text transform="translate(1649 64.2) scale(1 1)" text-anchor="middle" class="ttl">tamarin</text>
<rect x="1726.3" y="31.5" width="108.1" height="158.2" fill="#ffffff" stroke="#4472c4" stroke-width="1.5"/>
<rect x="1729.5" y="34.1" width="102.1" height="152.6" fill="#ffffff" stroke="#000000" stroke-width="1.5"/>
<line x1="1740.8" y1="55.5" x2="1780.5" y2="55.5" stroke="#ff0000" stroke-width="1.5"/>
<circle cx="1760.6" cy="55.5" r="5.734" fill="#ffffff" stroke="none"/><path d="M1760.6 49.77 A5.734 5.734 0 0 0 1760.6 61.23 Z" fill="#ff0000"/><circle cx="1760.6" cy="55.5" r="5.734" fill="none" stroke="#ff0000" stroke-width="1.0"/>
<text transform="translate(1798.3 61.5) scale(1 1)" class="lg">P5</text>
<line x1="1740.8" y1="77.5" x2="1780.5" y2="77.5" stroke="#ff0000" stroke-width="1.5"/>
<polygon points="1760.6,71.03 1767.43,77.5 1760.6,83.97 1753.77,77.5" fill="#ff0000"/><polygon points="1753.77,77.5 1760.6,71.03 1767.43,77.5" fill="#000000"/><polygon points="1760.6,71.03 1767.43,77.5 1760.6,83.97 1753.77,77.5" fill="none" stroke="#000000" stroke-width="1.0"/>
<text transform="translate(1798.3 83.5) scale(1 1)" class="lg">P6</text>
<line x1="1740.8" y1="99.6" x2="1780.5" y2="99.6" stroke="#0000ff" stroke-width="1.5"/>
<circle cx="1760.6" cy="99.6" r="5.734" fill="#0000ff" stroke="#000000" stroke-width="1.0"/>
<text transform="translate(1798.3 105.6) scale(1 1)" class="lg">P1</text>
<line x1="1740.8" y1="121.4" x2="1780.5" y2="121.4" stroke="#0000ff" stroke-width="1.5"/>
<polygon points="1760.6,114.93 1767.43,121.4 1760.6,127.87 1753.77,121.4" fill="#ffffff"/><polygon points="1760.6,114.93 1767.43,121.4 1760.6,127.87" fill="#0000ff"/><polygon points="1760.6,114.93 1767.43,121.4 1760.6,127.87 1753.77,121.4" fill="none" stroke="#0000ff" stroke-width="1.0"/>
<text transform="translate(1798.3 127.4) scale(1 1)" class="lg">P2</text>
<line x1="1740.8" y1="143.3" x2="1780.5" y2="143.3" stroke="#008000" stroke-width="1.5"/>
<polygon points="1760.6,136.83 1766.58,147.45 1754.62,147.45" fill="#008000" stroke="#000000" stroke-width="1.0"/>
<text transform="translate(1798.3 149.3) scale(1 1)" class="lg">P7</text>
<line x1="1740.8" y1="165" x2="1780.5" y2="165" stroke="#008000" stroke-width="1.5"/>
<circle cx="1760.6" cy="165" r="5.734" fill="#ffffff" stroke="none"/><path d="M1754.87 165 A5.734 5.734 0 0 0 1766.33 165 Z" fill="#008000"/><circle cx="1760.6" cy="165" r="5.734" fill="none" stroke="#008000" stroke-width="1.0"/>
<text transform="translate(1798.3 171) scale(1 1)" class="lg">P8</text>
<rect x="1066" y="419.3" width="329.6" height="330.2" fill="none" stroke="#444444" stroke-width="1.4"/>
<line x1="1059.5" y1="749.5" x2="1066" y2="749.5" stroke="#444444" stroke-width="1.3"/>
<text transform="translate(1051.7 755) scale(1 1.04)" text-anchor="end" class="tk">1</text>
<line x1="1059.5" y1="697.12" x2="1066" y2="697.12" stroke="#444444" stroke-width="1.3"/>
<text transform="translate(1051.7 702.62) scale(1 1.04)" text-anchor="end" class="tk">2</text>
<line x1="1059.5" y1="644.73" x2="1066" y2="644.73" stroke="#444444" stroke-width="1.3"/>
<text transform="translate(1051.7 650.23) scale(1 1.04)" text-anchor="end" class="tk">3</text>
<line x1="1059.5" y1="592.35" x2="1066" y2="592.35" stroke="#444444" stroke-width="1.3"/>
<text transform="translate(1051.7 597.85) scale(1 1.04)" text-anchor="end" class="tk">4</text>
<line x1="1059.5" y1="539.97" x2="1066" y2="539.97" stroke="#444444" stroke-width="1.3"/>
<text transform="translate(1051.7 545.47) scale(1 1.04)" text-anchor="end" class="tk">5</text>
<line x1="1059.5" y1="487.58" x2="1066" y2="487.58" stroke="#444444" stroke-width="1.3"/>
<text transform="translate(1051.7 493.08) scale(1 1.04)" text-anchor="end" class="tk">6</text>
<line x1="1059.5" y1="435.2" x2="1066" y2="435.2" stroke="#444444" stroke-width="1.3"/>
<text transform="translate(1051.7 440.7) scale(1 1.04)" text-anchor="end" class="tk">7</text>
<line x1="1079.65" y1="749.5" x2="1079.65" y2="754.7" stroke="#444444" stroke-width="1.3"/>
<text transform="translate(1079.65 776.7) scale(1 1.04)" text-anchor="middle" class="tk">0</text>
<line x1="1114.8" y1="749.5" x2="1114.8" y2="754.7" stroke="#444444" stroke-width="1.3"/>
<text transform="translate(1114.8 776.7) scale(1 1.04)" text-anchor="middle" class="tk">5</text>
<line x1="1149.95" y1="749.5" x2="1149.95" y2="754.7" stroke="#444444" stroke-width="1.3"/>
<text transform="translate(1149.95 776.7) scale(1 1.04)" text-anchor="middle" class="tk">10</text>
<line x1="1185.1" y1="749.5" x2="1185.1" y2="754.7" stroke="#444444" stroke-width="1.3"/>
<text transform="translate(1185.1 776.7) scale(1 1.04)" text-anchor="middle" class="tk">15</text>
<line x1="1220.25" y1="749.5" x2="1220.25" y2="754.7" stroke="#444444" stroke-width="1.3"/>
<text transform="translate(1220.25 776.7) scale(1 1.04)" text-anchor="middle" class="tk">20</text>
<line x1="1255.4" y1="749.5" x2="1255.4" y2="754.7" stroke="#444444" stroke-width="1.3"/>
<text transform="translate(1255.4 776.7) scale(1 1.04)" text-anchor="middle" class="tk">25</text>
<line x1="1290.55" y1="749.5" x2="1290.55" y2="754.7" stroke="#444444" stroke-width="1.3"/>
<text transform="translate(1290.55 776.7) scale(1 1.04)" text-anchor="middle" class="tk">30</text>
<line x1="1325.7" y1="749.5" x2="1325.7" y2="754.7" stroke="#444444" stroke-width="1.3"/>
<text transform="translate(1325.7 776.7) scale(1 1.04)" text-anchor="middle" class="tk">35</text>
<line x1="1360.85" y1="749.5" x2="1360.85" y2="754.7" stroke="#444444" stroke-width="1.3"/>
<text transform="translate(1360.85 776.7) scale(1 1.04)" text-anchor="middle" class="tk">40</text>
<line x1="1396" y1="749.5" x2="1396" y2="754.7" stroke="#444444" stroke-width="1.3"/>
<text transform="translate(1396 776.7) scale(1 1.04)" text-anchor="middle" class="tk">45</text>
<polyline points="1079.65,733.78 1086.68,662.54 1093.71,602.3 1100.74,599.68" fill="none" stroke="#ff0000" stroke-width="1.4"/>
<circle cx="1079.65" cy="733.78" r="4.7" fill="#ff0000" stroke="#000000" stroke-width="1.0"/>
<circle cx="1086.68" cy="662.54" r="4.7" fill="#ff0000" stroke="#000000" stroke-width="1.0"/>
<circle cx="1093.71" cy="602.3" r="4.7" fill="#ff0000" stroke="#000000" stroke-width="1.0"/>
<circle cx="1100.74" cy="599.68" r="4.7" fill="#ff0000" stroke="#000000" stroke-width="1.0"/>
<polyline points="1079.65,733.78 1086.68,631.64 1093.71,556.21 1100.74,583.44" fill="none" stroke="#ff0000" stroke-width="1.4"/>
<polygon points="1079.65,728.49 1084.55,737.18 1074.75,737.18" fill="#ff0000" stroke="#000000" stroke-width="1.0"/>
<polygon points="1086.68,626.34 1091.58,635.04 1081.78,635.04" fill="#ff0000" stroke="#000000" stroke-width="1.0"/>
<polygon points="1093.71,550.91 1098.61,559.61 1088.81,559.61" fill="#ff0000" stroke="#000000" stroke-width="1.0"/>
<polygon points="1100.74,578.14 1105.64,586.84 1095.84,586.84" fill="#ff0000" stroke="#000000" stroke-width="1.0"/>
<polyline points="1079.65,733.78 1093.71,578.21 1107.77,629.02 1128.86,733.78 1149.95,733.78 1178.07,733.78 1206.19,733.78 1227.28,708.12 1276.49,733.78 1325.7,690.83 1374.91,733.78" fill="none" stroke="#0000ff" stroke-width="1.4"/>
<rect x="1075.35" y="729.49" width="8.6" height="8.6" fill="#0000ff" stroke="#000000" stroke-width="1.0"/>
<rect x="1089.41" y="573.91" width="8.6" height="8.6" fill="#0000ff" stroke="#000000" stroke-width="1.0"/>
<rect x="1103.47" y="624.72" width="8.6" height="8.6" fill="#0000ff" stroke="#000000" stroke-width="1.0"/>
<rect x="1124.56" y="729.49" width="8.6" height="8.6" fill="#0000ff" stroke="#000000" stroke-width="1.0"/>
<rect x="1145.65" y="729.49" width="8.6" height="8.6" fill="#0000ff" stroke="#000000" stroke-width="1.0"/>
<rect x="1173.77" y="729.49" width="8.6" height="8.6" fill="#0000ff" stroke="#000000" stroke-width="1.0"/>
<rect x="1201.89" y="729.49" width="8.6" height="8.6" fill="#0000ff" stroke="#000000" stroke-width="1.0"/>
<rect x="1222.98" y="703.82" width="8.6" height="8.6" fill="#0000ff" stroke="#000000" stroke-width="1.0"/>
<rect x="1272.19" y="729.49" width="8.6" height="8.6" fill="#0000ff" stroke="#000000" stroke-width="1.0"/>
<rect x="1321.4" y="686.53" width="8.6" height="8.6" fill="#0000ff" stroke="#000000" stroke-width="1.0"/>
<rect x="1370.61" y="729.49" width="8.6" height="8.6" fill="#0000ff" stroke="#000000" stroke-width="1.0"/>
<polyline points="1079.65,733.78 1093.71,549.4 1107.77,605.97 1128.86,733.78 1149.95,733.78 1178.07,693.97 1206.19,733.78 1227.28,702.88 1276.49,704.19 1325.7,698.69 1374.91,733.78" fill="none" stroke="#0000ff" stroke-width="1.4"/>
<polygon points="1079.65,728.49 1085.25,733.78 1079.65,739.08 1074.05,733.78" fill="#0000ff" stroke="#000000" stroke-width="1.0"/>
<polygon points="1093.71,544.1 1099.31,549.4 1093.71,554.7 1088.11,549.4" fill="#0000ff" stroke="#000000" stroke-width="1.0"/>
<polygon points="1107.77,600.67 1113.37,605.97 1107.77,611.27 1102.17,605.97" fill="#0000ff" stroke="#000000" stroke-width="1.0"/>
<polygon points="1128.86,728.49 1134.46,733.78 1128.86,739.08 1123.26,733.78" fill="#0000ff" stroke="#000000" stroke-width="1.0"/>
<polygon points="1149.95,728.49 1155.55,733.78 1149.95,739.08 1144.35,733.78" fill="#0000ff" stroke="#000000" stroke-width="1.0"/>
<polygon points="1178.07,688.67 1183.67,693.97 1178.07,699.27 1172.47,693.97" fill="#0000ff" stroke="#000000" stroke-width="1.0"/>
<polygon points="1206.19,728.49 1211.79,733.78 1206.19,739.08 1200.59,733.78" fill="#0000ff" stroke="#000000" stroke-width="1.0"/>
<polygon points="1227.28,697.58 1232.88,702.88 1227.28,708.18 1221.68,702.88" fill="#0000ff" stroke="#000000" stroke-width="1.0"/>
<polygon points="1276.49,698.89 1282.09,704.19 1276.49,709.49 1270.89,704.19" fill="#0000ff" stroke="#000000" stroke-width="1.0"/>
<polygon points="1325.7,693.39 1331.3,698.69 1325.7,703.99 1320.1,698.69" fill="#0000ff" stroke="#000000" stroke-width="1.0"/>
<polygon points="1374.91,728.49 1380.51,733.78 1374.91,739.08 1369.31,733.78" fill="#0000ff" stroke="#000000" stroke-width="1.0"/>
<polyline points="1079.65,733.78 1086.68,672.5 1093.71,624.3 1100.74,596.02 1107.77,589.73 1114.8,596.02 1121.83,644.73 1128.86,696.59 1149.95,733.78 1178.07,709.16 1227.28,733.78 1276.49,733.78 1325.7,733.78 1374.91,733.78 1395.6,733.78" fill="none" stroke="#008000" stroke-width="1.4"/>
<circle cx="1079.65" cy="733.78" r="4.7" fill="#008000" stroke="#000000" stroke-width="1.0"/>
<circle cx="1086.68" cy="672.5" r="4.7" fill="#008000" stroke="#000000" stroke-width="1.0"/>
<circle cx="1093.71" cy="624.3" r="4.7" fill="#008000" stroke="#000000" stroke-width="1.0"/>
<circle cx="1100.74" cy="596.02" r="4.7" fill="#008000" stroke="#000000" stroke-width="1.0"/>
<circle cx="1107.77" cy="589.73" r="4.7" fill="#008000" stroke="#000000" stroke-width="1.0"/>
<circle cx="1114.8" cy="596.02" r="4.7" fill="#008000" stroke="#000000" stroke-width="1.0"/>
<circle cx="1121.83" cy="644.73" r="4.7" fill="#008000" stroke="#000000" stroke-width="1.0"/>
<circle cx="1128.86" cy="696.59" r="4.7" fill="#008000" stroke="#000000" stroke-width="1.0"/>
<circle cx="1149.95" cy="733.78" r="4.7" fill="#008000" stroke="#000000" stroke-width="1.0"/>
<circle cx="1178.07" cy="709.16" r="4.7" fill="#008000" stroke="#000000" stroke-width="1.0"/>
<circle cx="1227.28" cy="733.78" r="4.7" fill="#008000" stroke="#000000" stroke-width="1.0"/>
<circle cx="1276.49" cy="733.78" r="4.7" fill="#008000" stroke="#000000" stroke-width="1.0"/>
<circle cx="1325.7" cy="733.78" r="4.7" fill="#008000" stroke="#000000" stroke-width="1.0"/>
<circle cx="1374.91" cy="733.78" r="4.7" fill="#008000" stroke="#000000" stroke-width="1.0"/>
<polyline points="1079.65,733.78 1086.68,602.3 1093.71,560.92 1100.74,564.06 1107.77,593.92 1114.8,641.07 1121.83,707.59 1128.86,733.78 1149.95,733.78 1178.07,733.78 1206.19,733.78 1227.28,733.78 1276.49,733.78 1325.7,733.78 1374.91,733.78 1395.6,733.78" fill="none" stroke="#008000" stroke-width="1.4"/>
<polygon points="1079.65,739.08 1084.55,730.38 1074.75,730.38" fill="#008000" stroke="#000000" stroke-width="1.0"/>
<polygon points="1086.68,607.6 1091.58,598.9 1081.78,598.9" fill="#008000" stroke="#000000" stroke-width="1.0"/>
<polygon points="1093.71,566.22 1098.61,557.52 1088.81,557.52" fill="#008000" stroke="#000000" stroke-width="1.0"/>
<polygon points="1100.74,569.36 1105.64,560.66 1095.84,560.66" fill="#008000" stroke="#000000" stroke-width="1.0"/>
<polygon points="1107.77,599.22 1112.67,590.52 1102.87,590.52" fill="#008000" stroke="#000000" stroke-width="1.0"/>
<polygon points="1114.8,646.37 1119.7,637.67 1109.9,637.67" fill="#008000" stroke="#000000" stroke-width="1.0"/>
<polygon points="1121.83,712.89 1126.73,704.19 1116.93,704.19" fill="#008000" stroke="#000000" stroke-width="1.0"/>
<polygon points="1128.86,739.08 1133.76,730.38 1123.96,730.38" fill="#008000" stroke="#000000" stroke-width="1.0"/>
<polygon points="1149.95,739.08 1154.85,730.38 1145.05,730.38" fill="#008000" stroke="#000000" stroke-width="1.0"/>
<polygon points="1178.07,739.08 1182.97,730.38 1173.17,730.38" fill="#008000" stroke="#000000" stroke-width="1.0"/>
<polygon points="1206.19,739.08 1211.09,730.38 1201.29,730.38" fill="#008000" stroke="#000000" stroke-width="1.0"/>
<polygon points="1227.28,739.08 1232.18,730.38 1222.38,730.38" fill="#008000" stroke="#000000" stroke-width="1.0"/>
<polygon points="1276.49,739.08 1281.39,730.38 1271.59,730.38" fill="#008000" stroke="#000000" stroke-width="1.0"/>
<polygon points="1325.7,739.08 1330.6,730.38 1320.8,730.38" fill="#008000" stroke="#000000" stroke-width="1.0"/>
<polygon points="1374.91,739.08 1379.81,730.38 1370.01,730.38" fill="#008000" stroke="#000000" stroke-width="1.0"/>
<text transform="translate(1187 450.4) scale(1 1)" text-anchor="middle" class="ttl">rhesus</text>
<text transform="translate(1187 480) scale(1 1)" text-anchor="middle" class="ttl">macaque</text>
<rect x="1283" y="421.5" width="108.5" height="154.5" fill="#ffffff" stroke="#4472c4" stroke-width="1.5"/>
<rect x="1285.6" y="424.5" width="103.1" height="147.9" fill="#ffffff" stroke="#000000" stroke-width="1.5"/>
<line x1="1296.5" y1="444.7" x2="1335.1" y2="444.7" stroke="#ff0000" stroke-width="1.5"/>
<circle cx="1315.8" cy="444.7" r="5.0760000000000005" fill="#ff0000" stroke="#000000" stroke-width="1.0"/>
<text transform="translate(1345.2 450.7) scale(1 1)" class="lg">G13</text>
<line x1="1296.5" y1="466.4" x2="1335.1" y2="466.4" stroke="#ff0000" stroke-width="1.5"/>
<polygon points="1315.8,460.68 1321.09,470.07 1310.51,470.07" fill="#ff0000" stroke="#000000" stroke-width="1.0"/>
<text transform="translate(1345.2 472.4) scale(1 1)" class="lg">G15</text>
<line x1="1296.5" y1="487.7" x2="1335.1" y2="487.7" stroke="#0000ff" stroke-width="1.5"/>
<rect x="1311.16" y="483.06" width="9.29" height="9.29" fill="#0000ff" stroke="#000000" stroke-width="1.0"/>
<text transform="translate(1345.2 493.7) scale(1 1)" class="lg">G14</text>
<line x1="1296.5" y1="509.6" x2="1335.1" y2="509.6" stroke="#0000ff" stroke-width="1.5"/>
<polygon points="1315.8,503.88 1321.85,509.6 1315.8,515.32 1309.75,509.6" fill="#0000ff" stroke="#000000" stroke-width="1.0"/>
<text transform="translate(1345.2 515.6) scale(1 1)" class="lg">G16</text>
<line x1="1296.5" y1="530.9" x2="1335.1" y2="530.9" stroke="#008000" stroke-width="1.5"/>
<circle cx="1315.8" cy="530.9" r="5.0760000000000005" fill="#008000" stroke="#000000" stroke-width="1.0"/>
<text transform="translate(1345.2 536.9) scale(1 1)" class="lg">P3</text>
<line x1="1296.5" y1="552.6" x2="1335.1" y2="552.6" stroke="#008000" stroke-width="1.5"/>
<polygon points="1315.8,558.32 1321.09,548.93 1310.51,548.93" fill="#008000" stroke="#000000" stroke-width="1.0"/>
<text transform="translate(1345.2 558.6) scale(1 1)" class="lg">P4</text>
<rect x="1506.7" y="420.4" width="330.3" height="330.9" fill="none" stroke="#444444" stroke-width="1.4"/>
<line x1="1500.2" y1="751.3" x2="1506.7" y2="751.3" stroke="#444444" stroke-width="1.3"/>
<text transform="translate(1492.4 756.8) scale(1 1.04)" text-anchor="end" class="tk">1</text>
<line x1="1500.2" y1="698.87" x2="1506.7" y2="698.87" stroke="#444444" stroke-width="1.3"/>
<text transform="translate(1492.4 704.37) scale(1 1.04)" text-anchor="end" class="tk">2</text>
<line x1="1500.2" y1="646.43" x2="1506.7" y2="646.43" stroke="#444444" stroke-width="1.3"/>
<text transform="translate(1492.4 651.93) scale(1 1.04)" text-anchor="end" class="tk">3</text>
<line x1="1500.2" y1="594" x2="1506.7" y2="594" stroke="#444444" stroke-width="1.3"/>
<text transform="translate(1492.4 599.5) scale(1 1.04)" text-anchor="end" class="tk">4</text>
<line x1="1500.2" y1="541.57" x2="1506.7" y2="541.57" stroke="#444444" stroke-width="1.3"/>
<text transform="translate(1492.4 547.07) scale(1 1.04)" text-anchor="end" class="tk">5</text>
<line x1="1500.2" y1="489.13" x2="1506.7" y2="489.13" stroke="#444444" stroke-width="1.3"/>
<text transform="translate(1492.4 494.63) scale(1 1.04)" text-anchor="end" class="tk">6</text>
<line x1="1500.2" y1="436.7" x2="1506.7" y2="436.7" stroke="#444444" stroke-width="1.3"/>
<text transform="translate(1492.4 442.2) scale(1 1.04)" text-anchor="end" class="tk">7</text>
<line x1="1520.5" y1="751.3" x2="1520.5" y2="756.5" stroke="#444444" stroke-width="1.3"/>
<text transform="translate(1520.5 778.5) scale(1 1.04)" text-anchor="middle" class="tk">0</text>
<line x1="1555.65" y1="751.3" x2="1555.65" y2="756.5" stroke="#444444" stroke-width="1.3"/>
<text transform="translate(1555.65 778.5) scale(1 1.04)" text-anchor="middle" class="tk">5</text>
<line x1="1590.8" y1="751.3" x2="1590.8" y2="756.5" stroke="#444444" stroke-width="1.3"/>
<text transform="translate(1590.8 778.5) scale(1 1.04)" text-anchor="middle" class="tk">10</text>
<line x1="1625.95" y1="751.3" x2="1625.95" y2="756.5" stroke="#444444" stroke-width="1.3"/>
<text transform="translate(1625.95 778.5) scale(1 1.04)" text-anchor="middle" class="tk">15</text>
<line x1="1661.1" y1="751.3" x2="1661.1" y2="756.5" stroke="#444444" stroke-width="1.3"/>
<text transform="translate(1661.1 778.5) scale(1 1.04)" text-anchor="middle" class="tk">20</text>
<line x1="1696.25" y1="751.3" x2="1696.25" y2="756.5" stroke="#444444" stroke-width="1.3"/>
<text transform="translate(1696.25 778.5) scale(1 1.04)" text-anchor="middle" class="tk">25</text>
<line x1="1731.4" y1="751.3" x2="1731.4" y2="756.5" stroke="#444444" stroke-width="1.3"/>
<text transform="translate(1731.4 778.5) scale(1 1.04)" text-anchor="middle" class="tk">30</text>
<line x1="1766.55" y1="751.3" x2="1766.55" y2="756.5" stroke="#444444" stroke-width="1.3"/>
<text transform="translate(1766.55 778.5) scale(1 1.04)" text-anchor="middle" class="tk">35</text>
<line x1="1801.7" y1="751.3" x2="1801.7" y2="756.5" stroke="#444444" stroke-width="1.3"/>
<text transform="translate(1801.7 778.5) scale(1 1.04)" text-anchor="middle" class="tk">40</text>
<line x1="1836.85" y1="751.3" x2="1836.85" y2="756.5" stroke="#444444" stroke-width="1.3"/>
<text transform="translate(1836.85 778.5) scale(1 1.04)" text-anchor="middle" class="tk">45</text>
<polyline points="1520.5,735.57 1527.53,711.97 1534.56,637.52 1541.59,625.46" fill="none" stroke="#ff0000" stroke-width="1.4"/>
<circle cx="1520.5" cy="735.57" r="4.7" fill="#ffffff" stroke="none"/><path d="M1515.8 735.57 A4.7 4.7 0 0 0 1525.2 735.57 Z" fill="#ff0000"/><circle cx="1520.5" cy="735.57" r="4.7" fill="none" stroke="#ff0000" stroke-width="1.0"/>
<circle cx="1527.53" cy="711.97" r="4.7" fill="#ffffff" stroke="none"/><path d="M1522.83 711.97 A4.7 4.7 0 0 0 1532.23 711.97 Z" fill="#ff0000"/><circle cx="1527.53" cy="711.97" r="4.7" fill="none" stroke="#ff0000" stroke-width="1.0"/>
<circle cx="1534.56" cy="637.52" r="4.7" fill="#ffffff" stroke="none"/><path d="M1529.86 637.52 A4.7 4.7 0 0 0 1539.26 637.52 Z" fill="#ff0000"/><circle cx="1534.56" cy="637.52" r="4.7" fill="none" stroke="#ff0000" stroke-width="1.0"/>
<circle cx="1541.59" cy="625.46" r="4.7" fill="#ffffff" stroke="none"/><path d="M1536.89 625.46 A4.7 4.7 0 0 0 1546.29 625.46 Z" fill="#ff0000"/><circle cx="1541.59" cy="625.46" r="4.7" fill="none" stroke="#ff0000" stroke-width="1.0"/>
<polyline points="1520.5,735.57 1527.53,679.47 1534.56,587.71 1541.59,657.97" fill="none" stroke="#ff0000" stroke-width="1.4"/>
<polygon points="1520.5,730.27 1526.1,735.57 1520.5,740.87 1514.9,735.57" fill="#ffffff"/><polygon points="1520.5,730.27 1526.1,735.57 1520.5,740.87" fill="#ff0000"/><polygon points="1520.5,730.27 1526.1,735.57 1520.5,740.87 1514.9,735.57" fill="none" stroke="#ff0000" stroke-width="1.0"/>
<polygon points="1527.53,674.17 1533.13,679.47 1527.53,684.77 1521.93,679.47" fill="#ffffff"/><polygon points="1527.53,674.17 1533.13,679.47 1527.53,684.77" fill="#ff0000"/><polygon points="1527.53,674.17 1533.13,679.47 1527.53,684.77 1521.93,679.47" fill="none" stroke="#ff0000" stroke-width="1.0"/>
<polygon points="1534.56,582.41 1540.16,587.71 1534.56,593.01 1528.96,587.71" fill="#ffffff"/><polygon points="1534.56,582.41 1540.16,587.71 1534.56,593.01" fill="#ff0000"/><polygon points="1534.56,582.41 1540.16,587.71 1534.56,593.01 1528.96,587.71" fill="none" stroke="#ff0000" stroke-width="1.0"/>
<polygon points="1541.59,652.67 1547.19,657.97 1541.59,663.27 1535.99,657.97" fill="#ffffff"/><polygon points="1541.59,652.67 1547.19,657.97 1541.59,663.27" fill="#ff0000"/><polygon points="1541.59,652.67 1547.19,657.97 1541.59,663.27 1535.99,657.97" fill="none" stroke="#ff0000" stroke-width="1.0"/>
<polyline points="1520.5,735.57 1527.53,670.03 1534.56,609.73 1541.59,633.85 1548.62,651.15 1555.65,631.23 1569.71,672.65 1590.8,734 1618.92,735.57 1647.04,735.57 1668.13,735.57 1717.34,735.57 1773.58,735.57 1815.76,735.57" fill="none" stroke="#0000ff" stroke-width="1.4"/>
<rect x="1516.2" y="731.27" width="8.6" height="8.6" fill="#ffffff"/><rect x="1516.2" y="731.27" width="8.6" height="4.3" fill="#0000ff"/><rect x="1516.2" y="731.27" width="8.6" height="8.6" fill="none" stroke="#0000ff" stroke-width="1.0"/>
<rect x="1523.23" y="665.73" width="8.6" height="8.6" fill="#ffffff"/><rect x="1523.23" y="665.73" width="8.6" height="4.3" fill="#0000ff"/><rect x="1523.23" y="665.73" width="8.6" height="8.6" fill="none" stroke="#0000ff" stroke-width="1.0"/>
<rect x="1530.26" y="605.43" width="8.6" height="8.6" fill="#ffffff"/><rect x="1530.26" y="605.43" width="8.6" height="4.3" fill="#0000ff"/><rect x="1530.26" y="605.43" width="8.6" height="8.6" fill="none" stroke="#0000ff" stroke-width="1.0"/>
<rect x="1537.29" y="629.55" width="8.6" height="8.6" fill="#ffffff"/><rect x="1537.29" y="629.55" width="8.6" height="4.3" fill="#0000ff"/><rect x="1537.29" y="629.55" width="8.6" height="8.6" fill="none" stroke="#0000ff" stroke-width="1.0"/>
<rect x="1544.32" y="646.85" width="8.6" height="8.6" fill="#ffffff"/><rect x="1544.32" y="646.85" width="8.6" height="4.3" fill="#0000ff"/><rect x="1544.32" y="646.85" width="8.6" height="8.6" fill="none" stroke="#0000ff" stroke-width="1.0"/>
<rect x="1551.35" y="626.93" width="8.6" height="8.6" fill="#ffffff"/><rect x="1551.35" y="626.93" width="8.6" height="4.3" fill="#0000ff"/><rect x="1551.35" y="626.93" width="8.6" height="8.6" fill="none" stroke="#0000ff" stroke-width="1.0"/>
<rect x="1565.41" y="668.35" width="8.6" height="8.6" fill="#ffffff"/><rect x="1565.41" y="668.35" width="8.6" height="4.3" fill="#0000ff"/><rect x="1565.41" y="668.35" width="8.6" height="8.6" fill="none" stroke="#0000ff" stroke-width="1.0"/>
<rect x="1586.5" y="729.7" width="8.6" height="8.6" fill="#ffffff"/><rect x="1586.5" y="729.7" width="8.6" height="4.3" fill="#0000ff"/><rect x="1586.5" y="729.7" width="8.6" height="8.6" fill="none" stroke="#0000ff" stroke-width="1.0"/>
<rect x="1614.62" y="731.27" width="8.6" height="8.6" fill="#ffffff"/><rect x="1614.62" y="731.27" width="8.6" height="4.3" fill="#0000ff"/><rect x="1614.62" y="731.27" width="8.6" height="8.6" fill="none" stroke="#0000ff" stroke-width="1.0"/>
<rect x="1642.74" y="731.27" width="8.6" height="8.6" fill="#ffffff"/><rect x="1642.74" y="731.27" width="8.6" height="4.3" fill="#0000ff"/><rect x="1642.74" y="731.27" width="8.6" height="8.6" fill="none" stroke="#0000ff" stroke-width="1.0"/>
<rect x="1663.83" y="731.27" width="8.6" height="8.6" fill="#ffffff"/><rect x="1663.83" y="731.27" width="8.6" height="4.3" fill="#0000ff"/><rect x="1663.83" y="731.27" width="8.6" height="8.6" fill="none" stroke="#0000ff" stroke-width="1.0"/>
<rect x="1713.04" y="731.27" width="8.6" height="8.6" fill="#ffffff"/><rect x="1713.04" y="731.27" width="8.6" height="4.3" fill="#0000ff"/><rect x="1713.04" y="731.27" width="8.6" height="8.6" fill="none" stroke="#0000ff" stroke-width="1.0"/>
<rect x="1769.28" y="731.27" width="8.6" height="8.6" fill="#ffffff"/><rect x="1769.28" y="731.27" width="8.6" height="4.3" fill="#0000ff"/><rect x="1769.28" y="731.27" width="8.6" height="8.6" fill="none" stroke="#0000ff" stroke-width="1.0"/>
<rect x="1811.46" y="731.27" width="8.6" height="8.6" fill="#ffffff"/><rect x="1811.46" y="731.27" width="8.6" height="4.3" fill="#0000ff"/><rect x="1811.46" y="731.27" width="8.6" height="8.6" fill="none" stroke="#0000ff" stroke-width="1.0"/>
<polyline points="1520.5,735.57 1527.53,695.72 1534.56,583.51 1541.59,616.55 1548.62,626.51 1555.65,643.29 1569.71,670.55 1590.8,732.42 1618.92,735.57 1647.04,735.57 1668.13,735.57 1717.34,735.57 1773.58,735.57 1815.76,735.57" fill="none" stroke="#0000ff" stroke-width="1.4"/>
<polygon points="1520.5,730.27 1526.1,735.57 1520.5,740.87 1514.9,735.57" fill="#ffffff"/><polygon points="1514.9,735.57 1520.5,730.27 1526.1,735.57" fill="#0000ff"/><polygon points="1520.5,730.27 1526.1,735.57 1520.5,740.87 1514.9,735.57" fill="none" stroke="#0000ff" stroke-width="1.0"/>
<polygon points="1527.53,690.42 1533.13,695.72 1527.53,701.02 1521.93,695.72" fill="#ffffff"/><polygon points="1521.93,695.72 1527.53,690.42 1533.13,695.72" fill="#0000ff"/><polygon points="1527.53,690.42 1533.13,695.72 1527.53,701.02 1521.93,695.72" fill="none" stroke="#0000ff" stroke-width="1.0"/>
<polygon points="1534.56,578.21 1540.16,583.51 1534.56,588.81 1528.96,583.51" fill="#ffffff"/><polygon points="1528.96,583.51 1534.56,578.21 1540.16,583.51" fill="#0000ff"/><polygon points="1534.56,578.21 1540.16,583.51 1534.56,588.81 1528.96,583.51" fill="none" stroke="#0000ff" stroke-width="1.0"/>
<polygon points="1541.59,611.25 1547.19,616.55 1541.59,621.85 1535.99,616.55" fill="#ffffff"/><polygon points="1535.99,616.55 1541.59,611.25 1547.19,616.55" fill="#0000ff"/><polygon points="1541.59,611.25 1547.19,616.55 1541.59,621.85 1535.99,616.55" fill="none" stroke="#0000ff" stroke-width="1.0"/>
<polygon points="1548.62,621.21 1554.22,626.51 1548.62,631.81 1543.02,626.51" fill="#ffffff"/><polygon points="1543.02,626.51 1548.62,621.21 1554.22,626.51" fill="#0000ff"/><polygon points="1548.62,621.21 1554.22,626.51 1548.62,631.81 1543.02,626.51" fill="none" stroke="#0000ff" stroke-width="1.0"/>
<polygon points="1555.65,637.99 1561.25,643.29 1555.65,648.59 1550.05,643.29" fill="#ffffff"/><polygon points="1550.05,643.29 1555.65,637.99 1561.25,643.29" fill="#0000ff"/><polygon points="1555.65,637.99 1561.25,643.29 1555.65,648.59 1550.05,643.29" fill="none" stroke="#0000ff" stroke-width="1.0"/>
<polygon points="1569.71,665.25 1575.31,670.55 1569.71,675.85 1564.11,670.55" fill="#ffffff"/><polygon points="1564.11,670.55 1569.71,665.25 1575.31,670.55" fill="#0000ff"/><polygon points="1569.71,665.25 1575.31,670.55 1569.71,675.85 1564.11,670.55" fill="none" stroke="#0000ff" stroke-width="1.0"/>
<polygon points="1590.8,727.12 1596.4,732.42 1590.8,737.72 1585.2,732.42" fill="#ffffff"/><polygon points="1585.2,732.42 1590.8,727.12 1596.4,732.42" fill="#0000ff"/><polygon points="1590.8,727.12 1596.4,732.42 1590.8,737.72 1585.2,732.42" fill="none" stroke="#0000ff" stroke-width="1.0"/>
<polygon points="1618.92,730.27 1624.52,735.57 1618.92,740.87 1613.32,735.57" fill="#ffffff"/><polygon points="1613.32,735.57 1618.92,730.27 1624.52,735.57" fill="#0000ff"/><polygon points="1618.92,730.27 1624.52,735.57 1618.92,740.87 1613.32,735.57" fill="none" stroke="#0000ff" stroke-width="1.0"/>
<polygon points="1647.04,730.27 1652.64,735.57 1647.04,740.87 1641.44,735.57" fill="#ffffff"/><polygon points="1641.44,735.57 1647.04,730.27 1652.64,735.57" fill="#0000ff"/><polygon points="1647.04,730.27 1652.64,735.57 1647.04,740.87 1641.44,735.57" fill="none" stroke="#0000ff" stroke-width="1.0"/>
<polygon points="1668.13,730.27 1673.73,735.57 1668.13,740.87 1662.53,735.57" fill="#ffffff"/><polygon points="1662.53,735.57 1668.13,730.27 1673.73,735.57" fill="#0000ff"/><polygon points="1668.13,730.27 1673.73,735.57 1668.13,740.87 1662.53,735.57" fill="none" stroke="#0000ff" stroke-width="1.0"/>
<polygon points="1717.34,730.27 1722.94,735.57 1717.34,740.87 1711.74,735.57" fill="#ffffff"/><polygon points="1711.74,735.57 1717.34,730.27 1722.94,735.57" fill="#0000ff"/><polygon points="1717.34,730.27 1722.94,735.57 1717.34,740.87 1711.74,735.57" fill="none" stroke="#0000ff" stroke-width="1.0"/>
<polygon points="1773.58,730.27 1779.18,735.57 1773.58,740.87 1767.98,735.57" fill="#ffffff"/><polygon points="1767.98,735.57 1773.58,730.27 1779.18,735.57" fill="#0000ff"/><polygon points="1773.58,730.27 1779.18,735.57 1773.58,740.87 1767.98,735.57" fill="none" stroke="#0000ff" stroke-width="1.0"/>
<polygon points="1815.76,730.27 1821.36,735.57 1815.76,740.87 1810.16,735.57" fill="#ffffff"/><polygon points="1810.16,735.57 1815.76,730.27 1821.36,735.57" fill="#0000ff"/><polygon points="1815.76,730.27 1821.36,735.57 1815.76,740.87 1810.16,735.57" fill="none" stroke="#0000ff" stroke-width="1.0"/>
<polyline points="1520.5,735.57 1527.53,679.47 1534.56,622.84 1541.59,656.4 1548.62,667.41 1555.65,708.3 1569.71,678.42 1590.8,735.57 1618.92,735.57 1668.13,735.57 1724.37,735.57 1766.55,735.57 1822.79,735.57 1837,735.57" fill="none" stroke="#008000" stroke-width="1.4"/>
<circle cx="1520.5" cy="735.57" r="4.7" fill="#ffffff" stroke="none"/><path d="M1515.8 735.57 A4.7 4.7 0 0 1 1525.2 735.57 Z" fill="#008000"/><circle cx="1520.5" cy="735.57" r="4.7" fill="none" stroke="#008000" stroke-width="1.0"/>
<circle cx="1527.53" cy="679.47" r="4.7" fill="#ffffff" stroke="none"/><path d="M1522.83 679.47 A4.7 4.7 0 0 1 1532.23 679.47 Z" fill="#008000"/><circle cx="1527.53" cy="679.47" r="4.7" fill="none" stroke="#008000" stroke-width="1.0"/>
<circle cx="1534.56" cy="622.84" r="4.7" fill="#ffffff" stroke="none"/><path d="M1529.86 622.84 A4.7 4.7 0 0 1 1539.26 622.84 Z" fill="#008000"/><circle cx="1534.56" cy="622.84" r="4.7" fill="none" stroke="#008000" stroke-width="1.0"/>
<circle cx="1541.59" cy="656.4" r="4.7" fill="#ffffff" stroke="none"/><path d="M1536.89 656.4 A4.7 4.7 0 0 1 1546.29 656.4 Z" fill="#008000"/><circle cx="1541.59" cy="656.4" r="4.7" fill="none" stroke="#008000" stroke-width="1.0"/>
<circle cx="1548.62" cy="667.41" r="4.7" fill="#ffffff" stroke="none"/><path d="M1543.92 667.41 A4.7 4.7 0 0 1 1553.32 667.41 Z" fill="#008000"/><circle cx="1548.62" cy="667.41" r="4.7" fill="none" stroke="#008000" stroke-width="1.0"/>
<circle cx="1555.65" cy="708.3" r="4.7" fill="#ffffff" stroke="none"/><path d="M1550.95 708.3 A4.7 4.7 0 0 1 1560.35 708.3 Z" fill="#008000"/><circle cx="1555.65" cy="708.3" r="4.7" fill="none" stroke="#008000" stroke-width="1.0"/>
<circle cx="1569.71" cy="678.42" r="4.7" fill="#ffffff" stroke="none"/><path d="M1565.01 678.42 A4.7 4.7 0 0 1 1574.41 678.42 Z" fill="#008000"/><circle cx="1569.71" cy="678.42" r="4.7" fill="none" stroke="#008000" stroke-width="1.0"/>
<circle cx="1590.8" cy="735.57" r="4.7" fill="#ffffff" stroke="none"/><path d="M1586.1 735.57 A4.7 4.7 0 0 1 1595.5 735.57 Z" fill="#008000"/><circle cx="1590.8" cy="735.57" r="4.7" fill="none" stroke="#008000" stroke-width="1.0"/>
<circle cx="1618.92" cy="735.57" r="4.7" fill="#ffffff" stroke="none"/><path d="M1614.22 735.57 A4.7 4.7 0 0 1 1623.62 735.57 Z" fill="#008000"/><circle cx="1618.92" cy="735.57" r="4.7" fill="none" stroke="#008000" stroke-width="1.0"/>
<circle cx="1668.13" cy="735.57" r="4.7" fill="#ffffff" stroke="none"/><path d="M1663.43 735.57 A4.7 4.7 0 0 1 1672.83 735.57 Z" fill="#008000"/><circle cx="1668.13" cy="735.57" r="4.7" fill="none" stroke="#008000" stroke-width="1.0"/>
<circle cx="1724.37" cy="735.57" r="4.7" fill="#ffffff" stroke="none"/><path d="M1719.67 735.57 A4.7 4.7 0 0 1 1729.07 735.57 Z" fill="#008000"/><circle cx="1724.37" cy="735.57" r="4.7" fill="none" stroke="#008000" stroke-width="1.0"/>
<circle cx="1766.55" cy="735.57" r="4.7" fill="#ffffff" stroke="none"/><path d="M1761.85 735.57 A4.7 4.7 0 0 1 1771.25 735.57 Z" fill="#008000"/><circle cx="1766.55" cy="735.57" r="4.7" fill="none" stroke="#008000" stroke-width="1.0"/>
<circle cx="1822.79" cy="735.57" r="4.7" fill="#ffffff" stroke="none"/><path d="M1818.09 735.57 A4.7 4.7 0 0 1 1827.49 735.57 Z" fill="#008000"/><circle cx="1822.79" cy="735.57" r="4.7" fill="none" stroke="#008000" stroke-width="1.0"/>
<polyline points="1520.5,735.57 1527.53,735.57 1534.56,635.95 1541.59,716.69 1548.62,735.57 1555.65,713.02 1569.71,735.57 1590.8,735.57 1618.92,735.57 1668.13,735.57 1724.37,735.57 1766.55,735.57 1822.79,735.57 1837,735.57" fill="none" stroke="#008000" stroke-width="1.4"/>
<rect x="1516.2" y="731.27" width="8.6" height="8.6" fill="#ffffff"/><path d="M1516.2 739.87 L1524.8 731.27 L1516.2 731.27 Z" fill="#008000"/><rect x="1516.2" y="731.27" width="8.6" height="8.6" fill="none" stroke="#008000" stroke-width="1.0"/>
<rect x="1523.23" y="731.27" width="8.6" height="8.6" fill="#ffffff"/><path d="M1523.23 739.87 L1531.83 731.27 L1523.23 731.27 Z" fill="#008000"/><rect x="1523.23" y="731.27" width="8.6" height="8.6" fill="none" stroke="#008000" stroke-width="1.0"/>
<rect x="1530.26" y="631.65" width="8.6" height="8.6" fill="#ffffff"/><path d="M1530.26 640.25 L1538.86 631.65 L1530.26 631.65 Z" fill="#008000"/><rect x="1530.26" y="631.65" width="8.6" height="8.6" fill="none" stroke="#008000" stroke-width="1.0"/>
<rect x="1537.29" y="712.39" width="8.6" height="8.6" fill="#ffffff"/><path d="M1537.29 720.99 L1545.89 712.39 L1537.29 712.39 Z" fill="#008000"/><rect x="1537.29" y="712.39" width="8.6" height="8.6" fill="none" stroke="#008000" stroke-width="1.0"/>
<rect x="1544.32" y="731.27" width="8.6" height="8.6" fill="#ffffff"/><path d="M1544.32 739.87 L1552.92 731.27 L1544.32 731.27 Z" fill="#008000"/><rect x="1544.32" y="731.27" width="8.6" height="8.6" fill="none" stroke="#008000" stroke-width="1.0"/>
<rect x="1551.35" y="708.72" width="8.6" height="8.6" fill="#ffffff"/><path d="M1551.35 717.32 L1559.95 708.72 L1551.35 708.72 Z" fill="#008000"/><rect x="1551.35" y="708.72" width="8.6" height="8.6" fill="none" stroke="#008000" stroke-width="1.0"/>
<rect x="1565.41" y="731.27" width="8.6" height="8.6" fill="#ffffff"/><path d="M1565.41 739.87 L1574.01 731.27 L1565.41 731.27 Z" fill="#008000"/><rect x="1565.41" y="731.27" width="8.6" height="8.6" fill="none" stroke="#008000" stroke-width="1.0"/>
<rect x="1586.5" y="731.27" width="8.6" height="8.6" fill="#ffffff"/><path d="M1586.5 739.87 L1595.1 731.27 L1586.5 731.27 Z" fill="#008000"/><rect x="1586.5" y="731.27" width="8.6" height="8.6" fill="none" stroke="#008000" stroke-width="1.0"/>
<rect x="1614.62" y="731.27" width="8.6" height="8.6" fill="#ffffff"/><path d="M1614.62 739.87 L1623.22 731.27 L1614.62 731.27 Z" fill="#008000"/><rect x="1614.62" y="731.27" width="8.6" height="8.6" fill="none" stroke="#008000" stroke-width="1.0"/>
<rect x="1663.83" y="731.27" width="8.6" height="8.6" fill="#ffffff"/><path d="M1663.83 739.87 L1672.43 731.27 L1663.83 731.27 Z" fill="#008000"/><rect x="1663.83" y="731.27" width="8.6" height="8.6" fill="none" stroke="#008000" stroke-width="1.0"/>
<rect x="1720.07" y="731.27" width="8.6" height="8.6" fill="#ffffff"/><path d="M1720.07 739.87 L1728.67 731.27 L1720.07 731.27 Z" fill="#008000"/><rect x="1720.07" y="731.27" width="8.6" height="8.6" fill="none" stroke="#008000" stroke-width="1.0"/>
<rect x="1762.25" y="731.27" width="8.6" height="8.6" fill="#ffffff"/><path d="M1762.25 739.87 L1770.85 731.27 L1762.25 731.27 Z" fill="#008000"/><rect x="1762.25" y="731.27" width="8.6" height="8.6" fill="none" stroke="#008000" stroke-width="1.0"/>
<rect x="1818.49" y="731.27" width="8.6" height="8.6" fill="#ffffff"/><path d="M1818.49 739.87 L1827.09 731.27 L1818.49 731.27 Z" fill="#008000"/><rect x="1818.49" y="731.27" width="8.6" height="8.6" fill="none" stroke="#008000" stroke-width="1.0"/>
<text transform="translate(1621 455.6) scale(1 1)" text-anchor="middle" class="ttl">cynomolgus</text>
<text transform="translate(1621 486) scale(1 1)" text-anchor="middle" class="ttl">macaque</text>
<rect x="1731.7" y="423.5" width="102" height="159.5" fill="#ffffff" stroke="#4472c4" stroke-width="1.5"/>
<rect x="1734.5" y="426.7" width="96.4" height="153.3" fill="#ffffff" stroke="#000000" stroke-width="1.5"/>
<line x1="1745.4" y1="447.3" x2="1783.8" y2="447.3" stroke="#ff0000" stroke-width="1.5"/>
<circle cx="1764.5" cy="447.3" r="5.0760000000000005" fill="#ffffff" stroke="none"/><path d="M1759.42 447.3 A5.0760000000000005 5.0760000000000005 0 0 0 1769.58 447.3 Z" fill="#ff0000"/><circle cx="1764.5" cy="447.3" r="5.0760000000000005" fill="none" stroke="#ff0000" stroke-width="1.0"/>
<text transform="translate(1796.1 453.3) scale(1 1)" class="lg">Q3</text>
<line x1="1745.4" y1="469.7" x2="1783.8" y2="469.7" stroke="#ff0000" stroke-width="1.5"/>
<polygon points="1764.5,463.98 1770.55,469.7 1764.5,475.42 1758.45,469.7" fill="#ffffff"/><polygon points="1764.5,463.98 1770.55,469.7 1764.5,475.42" fill="#ff0000"/><polygon points="1764.5,463.98 1770.55,469.7 1764.5,475.42 1758.45,469.7" fill="none" stroke="#ff0000" stroke-width="1.0"/>
<text transform="translate(1796.1 475.7) scale(1 1)" class="lg">Q4</text>
<line x1="1745.4" y1="492.3" x2="1783.8" y2="492.3" stroke="#0000ff" stroke-width="1.5"/>
<rect x="1759.86" y="487.66" width="9.29" height="9.29" fill="#ffffff"/><rect x="1759.86" y="487.66" width="9.29" height="4.64" fill="#0000ff"/><rect x="1759.86" y="487.66" width="9.29" height="9.29" fill="none" stroke="#0000ff" stroke-width="1.0"/>
<text transform="translate(1796.1 498.3) scale(1 1)" class="lg">Q5</text>
<line x1="1745.4" y1="514.8" x2="1783.8" y2="514.8" stroke="#0000ff" stroke-width="1.5"/>
<polygon points="1764.5,509.08 1770.55,514.8 1764.5,520.52 1758.45,514.8" fill="#ffffff"/><polygon points="1758.45,514.8 1764.5,509.08 1770.55,514.8" fill="#0000ff"/><polygon points="1764.5,509.08 1770.55,514.8 1764.5,520.52 1758.45,514.8" fill="none" stroke="#0000ff" stroke-width="1.0"/>
<text transform="translate(1796.1 520.8) scale(1 1)" class="lg">Q6</text>
<line x1="1745.4" y1="537.4" x2="1783.8" y2="537.4" stroke="#008000" stroke-width="1.5"/>
<circle cx="1764.5" cy="537.4" r="5.0760000000000005" fill="#ffffff" stroke="none"/><path d="M1759.42 537.4 A5.0760000000000005 5.0760000000000005 0 0 1 1769.58 537.4 Z" fill="#008000"/><circle cx="1764.5" cy="537.4" r="5.0760000000000005" fill="none" stroke="#008000" stroke-width="1.0"/>
<text transform="translate(1796.1 543.4) scale(1 1)" class="lg">Q7</text>
<line x1="1745.4" y1="559.8" x2="1783.8" y2="559.8" stroke="#008000" stroke-width="1.5"/>
<rect x="1759.86" y="555.16" width="9.29" height="9.29" fill="#ffffff"/><path d="M1759.86 564.44 L1769.14 555.16 L1759.86 555.16 Z" fill="#008000"/><rect x="1759.86" y="555.16" width="9.29" height="9.29" fill="none" stroke="#008000" stroke-width="1.0"/>
<text transform="translate(1796.1 565.8) scale(1 1)" class="lg">Q8</text>
<text transform="translate(997.8 544.5) rotate(-90)" class="big">Log<tspan dy="5.5" style="font-size:16px">10</tspan><tspan dy="-5.5"> ZIKV RNA copies/ml</tspan></text>
<text transform="translate(1229.3 822.6) scale(1 1)" class="bk" style="font-size:25.3px">Days post sub-cutaneous infection</text>
<text transform="translate(1872.6 140.7) rotate(90)" class="big">New World</text>
<text transform="translate(1876.5 531.8) rotate(90)" class="big">Old World</text>
</svg>
</body></html>
